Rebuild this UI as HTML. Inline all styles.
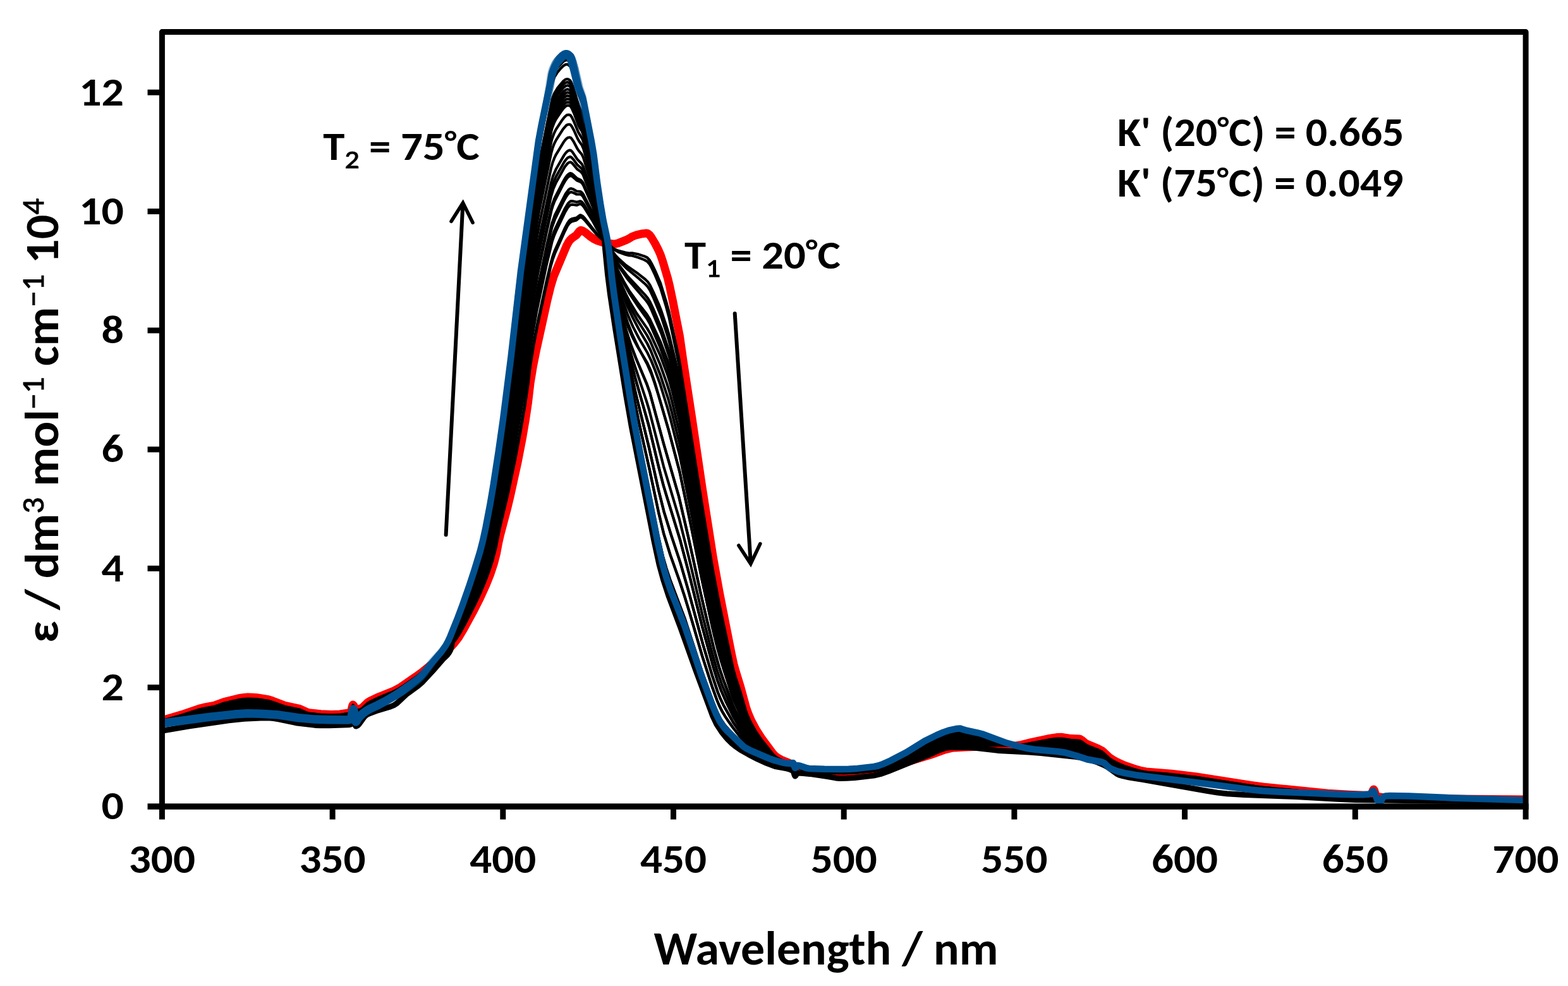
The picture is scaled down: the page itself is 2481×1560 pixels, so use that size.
<!DOCTYPE html>
<html><head><meta charset="utf-8"><title>Absorption spectra</title>
<style>html,body{margin:0;padding:0;background:#fff;overflow:hidden}svg{display:block;filter:blur(0.4px)}</style>
</head><body>
<svg xmlns="http://www.w3.org/2000/svg" width="2481" height="1560" viewBox="0 0 2481 1560">
<rect width="2481" height="1560" fill="#fff"/>
<g><path d="M256.0,1139.9 287.0,1130.8 315.5,1121.1 322.0,1119.5 339.5,1116.2 354.5,1110.6 377.0,1105.0 385.0,1103.7 392.0,1103.1 398.5,1103.2 406.0,1103.7 424.5,1106.6 431.0,1108.7 452.0,1116.7 474.0,1121.3 485.0,1126.5 489.0,1127.7 507.5,1129.8 524.5,1130.5 538.0,1129.9 551.5,1127.8 553.5,1127.1 555.0,1126.0 556.0,1123.4 557.5,1117.0 558.5,1115.0 559.5,1116.1 561.0,1119.6 562.0,1121.0 566.5,1121.9 570.0,1121.6 573.5,1119.4 582.0,1111.3 586.0,1108.8 599.0,1102.7 622.0,1093.6 634.0,1087.1 658.5,1070.2 668.5,1062.9 692.5,1043.7 707.5,1029.9 718.5,1017.9 726.0,1008.0 733.5,995.5 748.5,968.0 759.0,947.4 769.0,925.3 776.0,907.8 781.5,891.2 785.5,875.6 788.5,859.3 791.5,846.1 802.0,806.6 807.0,785.9 819.0,731.6 826.5,692.7 831.5,663.6 835.5,636.6 839.0,606.2 843.5,578.9 848.5,554.0 866.0,474.7 871.5,452.3 876.0,437.5 896.5,388.8 899.5,383.2 902.5,379.2 905.0,376.9 912.0,372.0 917.0,365.5 919.0,364.3 921.5,365.0 925.5,367.3 934.5,374.6 940.0,378.2 944.5,380.5 955.5,384.0 969.5,385.9 974.0,385.8 979.0,384.4 991.0,379.6 995.5,377.4 1000.0,374.5 1007.0,371.8 1016.5,369.7 1023.0,369.0 1025.0,369.6 1027.5,371.4 1030.5,375.2 1036.5,385.3 1042.0,396.0 1045.0,402.8 1048.5,413.0 1056.5,440.1 1059.5,452.4 1064.5,476.2 1075.5,532.1 1081.0,570.9 1095.5,665.8 1111.0,771.3 1128.5,882.9 1138.5,938.4 1157.5,1035.1 1161.0,1051.1 1164.0,1062.0 1171.5,1086.3 1180.5,1119.5 1184.0,1129.4 1188.5,1139.8 1196.5,1154.9 1206.0,1169.5 1222.5,1191.7 1226.5,1196.0 1230.5,1199.0 1236.5,1202.3 1250.5,1208.1 1260.0,1213.8 1269.5,1217.5 1278.0,1219.7 1300.0,1222.4 1319.5,1223.8 1338.0,1223.9 1359.0,1222.8 1382.5,1220.7 1395.5,1218.0 1426.5,1208.1 1472.0,1194.4 1495.5,1186.0 1505.0,1183.6 1511.5,1182.9 1528.0,1182.0 1580.5,1180.1 1608.5,1179.7 1616.5,1178.4 1632.5,1174.4 1662.0,1168.1 1672.0,1166.6 1680.5,1166.3 1694.5,1168.6 1707.5,1169.0 1709.0,1169.4 1711.5,1170.8 1717.0,1175.4 1719.5,1177.0 1737.0,1184.3 1743.5,1187.7 1746.5,1190.1 1755.0,1198.3 1761.5,1202.5 1769.0,1206.5 1779.0,1210.9 1793.5,1216.0 1804.0,1219.0 1813.5,1220.9 1854.0,1224.3 1891.5,1228.7 1979.5,1242.4 1998.5,1245.0 2101.0,1255.2 2135.5,1257.3 2166.0,1258.5 2167.5,1258.0 2170.0,1256.0 2172.5,1250.3 2173.5,1249.0 2174.5,1250.4 2176.5,1257.1 2177.5,1258.5 2181.0,1260.8 2186.0,1261.3 2214.0,1262.4 2304.0,1264.0 2414.0,1265.0" stroke="#ff0000" stroke-width="13" fill="none" stroke-linejoin="round"/><path d="M256.0,1156.2 300.0,1148.9 362.0,1139.9 386.0,1137.3 412.5,1136.0 424.0,1135.8 433.0,1136.6 442.0,1138.1 468.5,1143.7 498.5,1147.4 506.5,1147.8 521.5,1147.7 551.5,1146.8 555.0,1146.0 555.5,1145.1 558.0,1130.7 559.0,1128.0 560.0,1131.3 562.5,1148.1 563.0,1149.0 564.0,1148.9 566.0,1147.8 568.0,1145.8 576.5,1134.2 580.0,1131.0 585.5,1128.4 595.5,1124.8 618.0,1118.0 624.0,1115.3 628.5,1112.2 644.0,1097.8 661.5,1085.0 668.5,1079.0 684.5,1061.7 701.0,1042.8 707.5,1036.5 711.0,1031.8 712.5,1028.9 714.0,1023.7 720.0,991.4 722.0,983.1 731.0,959.5 742.5,926.8 753.5,892.8 760.5,869.3 767.5,839.5 777.0,789.3 788.0,719.6 797.5,652.3 808.0,569.2 820.5,457.9 825.5,417.4 845.0,275.8 850.0,236.4 856.0,201.6 873.0,116.8 874.5,111.3 876.5,106.4 879.5,101.1 883.0,96.3 888.0,90.8 893.0,86.6 898.0,86.4 899.5,87.0 902.0,89.7 904.0,94.0 907.5,105.1 915.5,136.4 918.0,144.1 921.0,151.1 922.5,155.7 937.0,229.6 939.5,245.6 947.0,302.9 954.0,345.6 957.5,393.5 961.5,434.1 965.5,465.9 973.5,518.9 991.0,627.3 999.5,675.9 1035.0,856.1 1043.0,893.0 1049.5,916.8 1058.0,942.8 1077.0,993.3 1101.0,1060.8 1127.5,1132.3 1134.0,1146.0 1142.5,1159.0 1147.5,1165.3 1152.5,1170.9 1157.5,1175.8 1163.0,1180.4 1171.5,1186.3 1184.5,1193.7 1198.0,1200.7 1210.5,1206.5 1226.5,1212.5 1244.5,1215.8 1248.5,1216.9 1252.5,1218.6 1255.0,1220.0 1255.5,1220.8 1257.0,1226.1 1258.0,1228.0 1259.0,1227.2 1261.0,1223.8 1262.0,1223.0 1271.0,1223.4 1281.0,1224.4 1309.5,1228.6 1322.5,1230.9 1328.5,1231.5 1339.5,1231.3 1352.5,1230.5 1382.5,1227.1 1393.0,1224.7 1405.5,1220.3 1469.0,1194.7 1486.0,1187.0 1494.0,1184.1 1498.5,1183.0 1503.0,1182.5 1533.0,1182.6 1545.5,1183.5 1578.5,1187.4 1627.5,1190.0 1647.0,1191.5 1698.5,1196.9 1711.0,1198.7 1719.0,1200.4 1727.5,1202.9 1737.0,1206.3 1747.0,1210.5 1752.5,1213.7 1767.0,1224.2 1771.0,1226.2 1777.0,1227.9 1787.0,1230.0 1807.5,1233.2 1909.5,1251.4 1926.5,1254.1 1941.0,1255.8 1969.0,1257.5 2050.5,1260.5 2116.5,1264.3 2144.0,1265.4 2282.5,1267.3 2414.0,1268.0" stroke="#000" stroke-width="9" fill="none" stroke-linejoin="round"/><path d="M256.0,1144.4 329.5,1134.1 370.5,1129.4 392.0,1128.1 413.0,1128.5 440.5,1130.5 472.0,1135.2 498.0,1137.8 522.0,1138.5 551.0,1138.6 555.0,1137.6 555.5,1136.8 558.0,1124.2 559.0,1121.8 560.0,1124.9 562.0,1138.3 563.0,1141.4 564.0,1140.7 566.5,1136.3 569.5,1132.9 574.5,1128.3 579.5,1124.5 585.5,1121.0 598.0,1115.1 607.5,1110.2 624.0,1100.9 640.5,1090.0 661.0,1074.8 666.5,1069.7 671.0,1064.8 684.5,1047.5 698.5,1031.3 705.5,1021.3 709.0,1014.9 712.5,1007.3 724.0,979.1 732.0,958.0 742.5,928.3 750.0,905.7 759.5,875.1 764.0,857.8 768.5,837.4 775.5,801.2 780.5,772.1 789.0,717.2 796.0,668.4 808.5,571.5 824.0,437.4 852.0,232.7 856.5,208.6 873.5,124.1 877.5,114.4 882.0,107.3 890.5,98.0 893.5,95.9 896.5,95.0 898.5,95.6 901.5,97.9 902.5,99.2 904.0,102.3 908.0,114.8 916.0,145.3 922.0,160.2 924.0,168.8 936.0,228.8 939.5,249.0 945.0,291.6 950.0,323.8 954.5,349.4 960.0,374.5 962.5,388.0 964.5,403.4 968.0,437.0 972.0,466.5 982.5,534.8 997.0,622.3 1004.0,661.2 1012.0,702.3 1027.5,777.5 1041.0,845.5 1049.0,880.7 1054.0,898.2 1060.0,916.5 1084.0,980.1 1110.5,1061.8 1126.0,1105.0 1133.5,1124.0 1140.0,1137.3 1147.0,1147.4 1152.5,1153.7 1172.0,1174.5 1178.0,1180.1 1183.0,1183.4 1189.5,1186.8 1215.5,1198.9 1223.5,1202.1 1235.5,1205.6 1243.5,1207.4 1250.0,1208.0 1255.0,1207.1 1255.5,1207.7 1257.5,1214.3 1258.0,1214.9 1259.0,1214.3 1261.0,1211.7 1262.0,1211.1 1266.0,1211.7 1275.5,1215.2 1280.0,1216.0 1303.0,1216.9 1326.5,1217.3 1340.0,1217.1 1354.5,1216.3 1383.0,1213.2 1389.5,1211.7 1396.5,1209.4 1408.5,1204.1 1434.0,1191.0 1463.5,1173.0 1482.5,1163.7 1493.0,1159.3 1501.5,1156.5 1513.0,1153.9 1519.5,1153.3 1522.0,1154.4 1528.0,1156.1 1554.0,1161.9 1593.0,1175.8 1614.5,1181.5 1626.0,1183.9 1636.5,1185.4 1672.0,1188.3 1685.0,1189.9 1703.0,1194.8 1720.5,1200.7 1742.0,1204.9 1747.0,1206.8 1754.5,1213.7 1757.5,1215.7 1768.5,1220.0 1781.0,1223.2 1799.0,1226.2 1903.0,1239.1 1980.0,1249.3 1998.0,1251.2 2025.0,1252.7 2119.5,1256.6 2145.5,1257.3 2157.5,1257.2 2166.5,1256.5 2170.0,1254.1 2172.0,1251.6 2173.0,1251.0 2173.5,1251.2 2174.5,1253.1 2179.5,1266.2 2182.0,1268.2 2184.0,1268.8 2185.0,1267.9 2187.5,1262.6 2190.0,1260.4 2192.0,1259.6 2199.0,1259.1 2229.0,1259.6 2297.0,1262.4 2414.0,1266.0" stroke="#000" stroke-width="4.2" fill="none" stroke-linejoin="round"/><path d="M256.0,1144.3 328.0,1133.9 370.0,1128.9 392.0,1127.5 413.5,1128.0 440.0,1130.0 472.0,1134.9 497.5,1137.6 522.0,1138.3 551.0,1138.4 555.0,1137.4 555.5,1136.5 558.0,1124.0 559.0,1121.7 560.0,1124.7 562.0,1137.9 563.0,1140.9 564.0,1140.3 566.5,1135.9 569.5,1132.6 574.5,1128.0 579.5,1124.2 585.5,1120.7 598.5,1114.6 609.0,1109.2 624.5,1100.4 640.5,1089.8 661.0,1074.6 666.5,1069.6 671.0,1064.7 684.5,1047.5 698.5,1031.4 705.5,1021.6 709.0,1015.2 712.5,1007.7 724.0,979.8 732.0,958.9 742.0,930.9 759.0,878.5 763.5,861.7 768.5,839.4 775.5,803.6 781.0,771.9 789.5,717.0 796.5,668.4 808.5,576.2 824.0,443.5 852.0,239.7 856.5,215.6 873.5,131.4 877.5,121.6 882.0,114.5 887.5,107.9 891.0,104.4 894.0,102.4 897.0,101.7 899.5,102.8 902.0,104.8 904.0,108.6 908.0,120.7 916.0,150.4 922.0,164.9 924.0,173.2 936.5,234.7 939.5,252.0 945.0,293.6 950.0,325.2 954.5,350.2 960.5,377.1 963.0,391.1 968.0,435.8 972.0,464.9 983.0,535.9 999.0,632.9 1012.5,704.8 1027.5,777.5 1041.0,845.5 1049.0,880.7 1054.0,898.2 1060.0,916.5 1084.0,980.1 1110.5,1061.8 1126.0,1105.0 1133.5,1124.0 1140.0,1137.3 1147.0,1147.4 1152.5,1153.7 1172.0,1174.5 1178.0,1180.1 1183.0,1183.4 1189.5,1186.8 1215.5,1198.9 1223.5,1202.1 1235.5,1205.6 1243.5,1207.4 1250.0,1208.0 1255.0,1207.1 1255.5,1207.7 1257.5,1214.3 1258.0,1214.9 1259.0,1214.3 1261.0,1211.7 1262.0,1211.1 1266.0,1211.7 1275.5,1215.2 1280.0,1216.0 1303.0,1216.9 1326.5,1217.3 1340.0,1217.1 1354.5,1216.3 1383.0,1213.2 1389.5,1211.7 1396.5,1209.4 1408.5,1204.1 1434.0,1191.0 1463.5,1173.0 1482.5,1163.7 1493.0,1159.3 1501.5,1156.5 1513.0,1153.9 1519.5,1153.3 1522.0,1154.4 1528.0,1156.1 1554.0,1161.9 1593.0,1175.8 1614.5,1181.5 1626.0,1183.9 1636.5,1185.4 1672.0,1188.3 1685.0,1189.9 1703.0,1194.8 1720.5,1200.7 1742.0,1204.9 1747.0,1206.8 1754.5,1213.7 1757.5,1215.7 1768.5,1220.0 1781.0,1223.2 1799.0,1226.2 1903.0,1239.1 1980.0,1249.3 1998.0,1251.2 2025.0,1252.7 2119.5,1256.6 2145.5,1257.3 2157.5,1257.2 2166.5,1256.5 2170.0,1254.1 2172.0,1251.6 2173.0,1251.0 2173.5,1251.2 2174.5,1253.1 2179.5,1266.2 2182.0,1268.2 2184.0,1268.8 2185.0,1267.9 2187.5,1262.6 2190.0,1260.4 2192.0,1259.6 2199.0,1259.1 2229.0,1259.6 2297.0,1262.4 2414.0,1266.0" stroke="#000" stroke-width="4.2" fill="none" stroke-linejoin="round"/><path d="M256.0,1143.9 317.5,1134.1 354.0,1129.1 376.0,1126.5 392.0,1125.5 409.5,1125.9 430.0,1127.4 444.0,1129.1 485.0,1135.6 496.5,1136.8 522.5,1137.7 550.5,1137.6 554.5,1136.7 555.5,1135.6 558.0,1123.3 559.0,1121.1 560.0,1124.1 562.0,1136.6 563.0,1139.3 564.0,1138.7 566.5,1134.8 569.5,1131.8 575.5,1126.4 580.5,1122.7 586.0,1119.5 610.5,1107.6 624.5,1099.8 640.0,1089.6 660.5,1074.5 666.5,1069.2 671.0,1064.4 684.5,1047.8 698.5,1032.0 705.5,1022.4 712.5,1009.1 724.5,981.1 732.5,960.8 743.0,932.1 754.5,898.2 760.0,880.7 764.5,863.8 769.5,841.8 776.5,807.0 782.0,775.8 798.0,670.9 809.0,588.8 824.5,461.1 850.0,276.5 852.5,261.1 873.5,156.9 877.5,147.0 882.5,138.9 891.5,128.1 894.5,125.8 897.5,125.0 899.5,125.5 902.0,127.2 904.0,130.5 908.0,141.3 915.5,166.5 922.0,181.2 924.0,188.9 936.0,243.8 939.5,262.2 945.0,300.7 950.0,329.8 954.5,352.9 960.5,377.7 963.0,390.6 968.0,431.8 972.0,458.4 982.5,520.1 997.0,599.8 1011.0,668.5 1027.5,741.9 1042.0,810.4 1050.0,843.6 1060.5,877.6 1075.5,920.0 1083.0,942.9 1090.5,967.4 1111.5,1039.2 1126.5,1085.7 1134.5,1108.0 1138.5,1117.3 1142.0,1124.4 1147.0,1132.8 1153.0,1141.8 1160.0,1151.5 1174.5,1170.0 1178.5,1174.5 1183.5,1178.8 1188.5,1182.3 1195.5,1186.4 1216.0,1197.7 1224.5,1201.7 1234.5,1205.0 1243.0,1207.1 1250.0,1208.0 1255.0,1207.4 1255.5,1208.0 1257.5,1214.2 1258.0,1214.7 1259.0,1214.3 1261.0,1211.9 1262.0,1211.4 1266.0,1212.1 1275.5,1215.5 1280.0,1216.4 1300.5,1217.4 1321.0,1217.8 1336.5,1217.8 1351.0,1217.1 1382.5,1213.9 1389.0,1212.5 1396.0,1210.3 1408.5,1205.0 1434.0,1192.3 1463.5,1175.1 1484.5,1165.2 1494.0,1161.3 1502.0,1158.8 1513.0,1156.4 1519.5,1155.9 1528.0,1158.4 1554.0,1163.6 1593.0,1176.1 1614.5,1181.3 1634.0,1184.1 1674.0,1186.5 1683.5,1187.7 1690.0,1189.0 1707.0,1193.7 1721.0,1198.9 1738.0,1202.2 1744.0,1203.9 1747.5,1205.7 1755.0,1212.7 1758.5,1214.8 1770.5,1219.4 1785.0,1223.0 1804.5,1226.2 1901.0,1238.1 1983.0,1249.1 1999.0,1250.7 2028.0,1252.5 2118.0,1256.6 2147.0,1257.4 2158.0,1257.3 2166.5,1256.6 2170.0,1254.2 2173.0,1250.8 2173.5,1251.0 2174.5,1252.9 2179.5,1265.6 2181.5,1267.3 2184.0,1268.1 2185.0,1267.3 2187.5,1262.5 2190.0,1260.5 2192.0,1259.7 2199.0,1259.3 2229.0,1259.9 2297.5,1262.6 2414.0,1265.9" stroke="#000" stroke-width="4.2" fill="none" stroke-linejoin="round"/><path d="M256.0,1143.8 317.5,1133.9 354.0,1128.8 376.0,1126.1 392.0,1125.1 409.0,1125.4 429.5,1127.0 444.0,1128.8 485.0,1135.5 496.5,1136.6 523.0,1137.6 550.5,1137.4 554.5,1136.5 555.5,1135.4 558.0,1123.1 559.0,1121.0 560.0,1124.0 562.0,1136.3 563.0,1139.0 564.0,1138.4 566.5,1134.5 569.5,1131.6 575.5,1126.3 581.0,1122.2 586.5,1119.0 610.5,1107.4 625.0,1099.3 640.0,1089.5 660.5,1074.4 666.5,1069.1 671.0,1064.3 684.5,1047.8 698.5,1032.1 706.0,1021.8 713.0,1008.3 725.0,980.5 733.0,960.2 743.5,931.6 754.5,899.4 760.0,882.0 764.5,865.2 769.5,843.4 776.5,808.9 782.0,778.0 798.5,670.4 809.0,592.4 824.0,469.6 850.0,281.7 852.5,266.5 873.5,162.5 877.5,152.5 882.0,145.1 888.0,137.3 891.5,133.4 894.5,131.0 897.5,130.1 899.5,130.6 902.0,132.1 904.0,135.3 908.0,145.9 915.5,170.4 922.0,184.7 924.0,192.4 936.0,246.4 939.5,264.4 945.0,302.2 950.0,330.9 954.5,353.5 960.5,377.8 963.0,390.5 968.0,430.9 972.0,457.1 982.5,518.3 998.5,606.4 1012.5,675.1 1027.5,741.9 1042.0,810.4 1050.0,843.6 1060.5,877.6 1075.5,920.0 1083.0,942.9 1090.5,967.4 1111.5,1039.2 1126.5,1085.7 1134.5,1108.0 1138.5,1117.3 1142.5,1125.3 1147.5,1133.6 1154.0,1143.2 1160.5,1152.2 1175.0,1170.6 1179.0,1175.0 1184.0,1179.2 1196.0,1186.7 1216.0,1197.7 1224.5,1201.7 1234.5,1205.0 1243.0,1207.1 1250.0,1208.0 1255.0,1207.4 1255.5,1208.0 1257.5,1214.2 1258.0,1214.7 1259.0,1214.3 1261.0,1211.9 1262.0,1211.4 1266.0,1212.1 1275.5,1215.5 1280.0,1216.4 1300.5,1217.4 1321.5,1217.8 1337.0,1217.8 1351.5,1217.1 1382.5,1213.9 1389.0,1212.5 1396.0,1210.3 1408.5,1205.0 1434.0,1192.3 1463.5,1175.1 1484.5,1165.2 1494.0,1161.3 1502.0,1158.8 1513.0,1156.4 1519.5,1155.9 1528.0,1158.4 1554.0,1163.6 1593.0,1176.1 1614.5,1181.3 1634.0,1184.1 1674.0,1186.5 1683.5,1187.7 1690.0,1189.0 1707.0,1193.7 1721.0,1198.9 1738.0,1202.2 1744.0,1203.9 1747.5,1205.7 1755.0,1212.7 1758.5,1214.8 1770.5,1219.4 1785.0,1223.0 1804.5,1226.2 1901.0,1238.1 1983.0,1249.1 1999.0,1250.7 2028.0,1252.5 2118.0,1256.6 2147.0,1257.4 2158.0,1257.3 2166.5,1256.6 2170.0,1254.2 2173.0,1250.8 2173.5,1251.0 2174.5,1252.9 2179.5,1265.6 2181.5,1267.3 2184.0,1268.1 2185.0,1267.3 2187.5,1262.5 2190.0,1260.5 2192.0,1259.7 2199.0,1259.3 2229.0,1259.9 2297.5,1262.6 2414.0,1265.9" stroke="#000" stroke-width="4.2" fill="none" stroke-linejoin="round"/><path d="M256.0,1143.8 317.0,1133.7 354.0,1128.4 376.0,1125.7 392.0,1124.6 408.5,1125.0 428.5,1126.5 443.5,1128.4 485.5,1135.4 496.0,1136.4 523.0,1137.4 550.5,1137.2 554.5,1136.3 555.5,1135.2 558.0,1123.0 559.0,1120.9 560.0,1123.8 562.0,1136.0 563.0,1138.6 564.0,1138.1 566.5,1134.3 569.0,1131.8 575.5,1126.1 581.0,1122.0 586.5,1118.8 611.0,1106.9 625.0,1099.2 640.0,1089.4 660.5,1074.3 666.5,1069.0 671.5,1063.7 684.5,1047.9 698.5,1032.2 706.0,1022.0 713.0,1008.7 724.5,982.3 732.5,962.2 743.0,933.9 754.5,900.5 760.0,883.2 764.5,866.6 769.5,845.0 776.5,810.8 782.5,777.2 799.0,669.9 809.0,596.1 824.0,474.3 850.0,287.0 852.5,271.9 873.5,168.2 877.5,158.1 882.5,149.9 888.5,142.1 892.0,138.2 895.5,135.7 898.0,135.2 900.0,135.8 902.0,137.0 904.0,140.1 908.0,150.5 915.5,174.4 922.0,188.3 924.0,195.9 935.0,244.5 939.5,266.7 945.0,303.8 950.0,331.9 954.5,354.1 960.0,375.9 962.5,387.6 964.5,401.0 968.0,429.9 971.5,452.3 980.5,502.2 991.0,555.3 1004.0,615.0 1026.5,706.3 1042.0,775.3 1050.5,809.3 1062.0,846.6 1076.5,890.4 1089.0,933.6 1112.0,1018.6 1127.0,1069.2 1135.5,1094.5 1140.0,1105.7 1144.5,1115.2 1160.0,1142.7 1178.0,1168.6 1183.0,1174.1 1189.5,1179.4 1211.5,1193.7 1219.5,1198.5 1225.5,1201.5 1234.0,1204.5 1242.5,1206.8 1250.0,1208.0 1255.0,1207.7 1258.0,1214.6 1259.0,1214.2 1261.0,1212.1 1262.0,1211.7 1266.5,1212.6 1276.0,1216.0 1280.0,1216.7 1300.0,1217.8 1319.5,1218.3 1335.5,1218.4 1350.0,1217.7 1382.0,1214.6 1388.5,1213.2 1395.5,1211.1 1408.0,1206.0 1434.0,1193.4 1463.5,1176.9 1486.0,1166.6 1495.0,1163.1 1502.5,1160.8 1513.0,1158.7 1519.5,1158.1 1527.5,1160.3 1554.0,1165.1 1593.5,1176.6 1613.0,1180.8 1624.5,1182.4 1637.0,1183.5 1675.5,1185.0 1683.0,1185.8 1689.0,1187.0 1708.0,1191.9 1721.5,1197.2 1737.5,1200.7 1743.5,1202.4 1747.5,1204.5 1756.0,1212.3 1760.5,1214.6 1773.0,1219.2 1789.0,1223.0 1808.5,1226.1 1899.5,1237.2 1985.0,1248.8 2001.0,1250.4 2030.5,1252.2 2116.0,1256.5 2148.0,1257.4 2158.5,1257.3 2166.5,1256.8 2170.0,1254.4 2173.0,1250.7 2173.5,1250.9 2174.5,1252.6 2179.5,1265.2 2181.5,1266.8 2184.0,1267.5 2185.0,1266.8 2187.5,1262.4 2190.0,1260.6 2192.0,1259.9 2199.0,1259.6 2229.0,1260.1 2298.5,1262.7 2414.0,1265.8" stroke="#000" stroke-width="4.2" fill="none" stroke-linejoin="round"/><path d="M256.0,1143.7 316.5,1133.4 354.0,1128.0 376.0,1125.2 392.0,1124.1 408.5,1124.5 428.0,1126.0 443.0,1128.0 485.5,1135.1 496.0,1136.2 523.5,1137.3 550.5,1137.0 554.5,1136.0 555.5,1134.9 558.0,1122.8 559.0,1120.8 560.0,1123.7 562.0,1135.6 562.5,1137.5 563.0,1138.2 563.5,1138.1 567.0,1133.4 575.0,1126.3 581.0,1121.7 586.5,1118.6 611.5,1106.5 625.0,1099.0 640.0,1089.2 660.5,1074.2 666.5,1068.9 671.5,1063.6 684.5,1047.9 698.5,1032.4 706.0,1022.2 713.0,1009.0 725.0,981.7 733.0,961.8 743.5,933.6 754.5,901.8 760.0,884.7 765.0,866.3 770.0,844.6 776.5,813.1 782.5,779.9 799.5,670.0 809.0,600.4 824.0,479.8 850.0,293.2 852.5,278.2 873.5,174.8 877.5,164.7 882.5,156.4 888.5,148.4 892.0,144.5 895.5,141.8 898.0,141.2 900.0,141.7 902.0,142.8 904.0,145.8 908.0,155.8 915.5,179.0 922.0,192.6 924.0,199.9 935.5,249.8 939.5,269.4 945.0,305.6 950.0,333.1 954.5,354.8 960.0,376.1 962.5,387.5 964.5,400.6 968.0,428.9 971.5,450.9 981.0,502.8 993.0,563.2 1006.0,622.7 1027.0,708.4 1042.0,775.3 1050.5,809.3 1062.0,846.6 1076.5,890.4 1089.0,933.6 1112.0,1018.6 1127.0,1069.2 1135.5,1094.5 1140.0,1105.7 1144.5,1115.2 1160.0,1142.7 1178.0,1168.6 1183.0,1174.1 1189.5,1179.4 1211.5,1193.7 1219.5,1198.5 1225.5,1201.5 1234.0,1204.5 1242.5,1206.8 1250.0,1208.0 1255.0,1207.7 1258.0,1214.6 1259.0,1214.2 1261.0,1212.1 1262.0,1211.7 1266.5,1212.6 1276.0,1216.0 1280.0,1216.7 1300.0,1217.8 1319.5,1218.3 1335.5,1218.4 1350.0,1217.7 1382.0,1214.6 1388.5,1213.2 1395.5,1211.1 1408.0,1206.0 1434.0,1193.4 1463.5,1176.9 1486.0,1166.6 1495.0,1163.1 1502.5,1160.8 1513.0,1158.7 1519.5,1158.1 1527.5,1160.3 1554.0,1165.1 1593.5,1176.6 1613.0,1180.8 1624.5,1182.4 1637.0,1183.5 1675.5,1185.0 1683.0,1185.8 1689.0,1187.0 1708.0,1191.9 1721.5,1197.2 1737.5,1200.7 1743.5,1202.4 1747.5,1204.5 1756.0,1212.3 1760.5,1214.6 1773.0,1219.2 1789.0,1223.0 1808.5,1226.1 1899.5,1237.2 1985.0,1248.8 2001.0,1250.4 2030.5,1252.2 2116.0,1256.5 2148.0,1257.4 2158.5,1257.3 2166.5,1256.8 2170.0,1254.4 2173.0,1250.7 2173.5,1250.9 2174.5,1252.6 2179.5,1265.2 2181.5,1266.8 2184.0,1267.5 2185.0,1266.8 2187.5,1262.4 2190.0,1260.6 2192.0,1259.9 2199.0,1259.6 2229.0,1260.1 2298.5,1262.7 2414.0,1265.8" stroke="#000" stroke-width="4.2" fill="none" stroke-linejoin="round"/><path d="M256.0,1143.6 316.5,1133.2 340.0,1130.0 354.0,1127.6 376.5,1124.7 392.5,1123.7 409.0,1124.1 428.0,1125.6 443.0,1127.7 485.5,1135.0 493.0,1135.8 512.5,1136.9 540.5,1137.1 551.0,1136.8 555.0,1135.6 556.0,1132.9 558.0,1122.7 559.0,1120.7 560.0,1123.5 562.0,1135.3 562.5,1137.1 563.0,1137.9 563.5,1137.7 567.0,1133.2 575.5,1125.7 581.5,1121.2 587.0,1118.1 611.5,1106.3 625.0,1098.9 639.5,1089.4 660.0,1074.5 666.0,1069.3 671.0,1064.1 684.5,1048.0 698.5,1032.5 706.0,1022.4 713.0,1009.3 725.0,982.3 733.0,962.5 743.5,934.5 754.5,903.0 760.0,886.0 765.0,867.7 770.0,846.3 776.5,815.1 782.5,782.1 799.5,673.0 809.5,600.3 824.0,484.5 839.0,376.1 850.0,298.5 852.5,283.5 873.5,180.4 877.5,170.3 882.5,162.0 888.5,153.8 892.0,149.8 895.5,147.0 898.0,146.3 900.0,146.7 902.0,147.7 904.5,151.7 908.0,160.4 915.0,181.6 917.0,186.4 921.0,193.7 923.5,201.3 938.5,266.3 945.0,307.2 949.5,331.6 954.5,355.4 960.5,378.3 963.0,390.2 968.5,431.3 974.0,462.6 982.5,505.0 993.5,553.6 1004.5,596.1 1026.0,671.2 1042.0,737.9 1050.0,769.0 1076.5,855.7 1090.5,908.8 1110.5,989.1 1128.5,1055.1 1135.0,1076.1 1141.0,1092.5 1148.5,1109.5 1160.5,1134.1 1176.0,1159.8 1181.0,1167.0 1188.5,1174.8 1198.5,1182.8 1217.5,1196.2 1226.5,1201.3 1234.0,1204.2 1242.0,1206.5 1250.0,1208.0 1255.0,1208.0 1258.0,1214.4 1259.0,1214.1 1261.0,1212.3 1262.0,1212.0 1266.0,1212.8 1277.0,1216.5 1285.0,1217.4 1304.5,1218.4 1323.5,1218.9 1338.0,1218.8 1352.5,1218.1 1382.0,1215.2 1388.5,1213.9 1395.5,1211.8 1407.5,1207.0 1434.0,1194.6 1463.5,1178.9 1487.5,1168.3 1496.0,1165.0 1503.0,1163.0 1513.0,1161.1 1519.5,1160.5 1527.5,1162.4 1554.5,1166.8 1593.5,1176.9 1611.5,1180.4 1622.5,1181.7 1637.0,1182.5 1674.0,1183.0 1681.5,1183.7 1688.5,1185.0 1707.5,1189.5 1721.0,1195.2 1742.5,1200.6 1747.0,1202.8 1756.0,1210.9 1762.5,1214.2 1769.0,1216.8 1776.5,1219.2 1794.5,1223.3 1812.5,1226.1 1901.0,1236.7 1987.5,1248.5 2005.5,1250.2 2035.5,1252.1 2114.5,1256.4 2149.5,1257.5 2166.5,1256.9 2170.0,1254.5 2173.0,1250.6 2174.0,1251.3 2179.5,1264.7 2181.5,1266.2 2184.0,1266.9 2185.0,1266.2 2187.5,1262.3 2190.0,1260.7 2192.0,1260.1 2198.5,1259.8 2234.0,1260.5 2320.0,1263.4 2414.0,1265.7" stroke="#000" stroke-width="4.2" fill="none" stroke-linejoin="round"/><path d="M256.0,1143.5 316.5,1132.9 340.0,1129.7 354.0,1127.3 376.5,1124.3 392.5,1123.3 409.0,1123.6 428.0,1125.2 442.5,1127.3 485.5,1134.8 492.0,1135.6 510.5,1136.7 538.5,1137.0 551.0,1136.6 555.0,1135.4 556.0,1132.7 558.0,1122.5 559.0,1120.5 560.0,1123.4 562.0,1135.0 562.5,1136.8 563.0,1137.5 563.5,1137.4 567.0,1133.0 576.0,1125.1 581.5,1121.0 587.0,1117.9 612.0,1105.8 625.0,1098.7 639.5,1089.3 660.0,1074.4 666.0,1069.2 671.0,1064.0 684.5,1048.0 698.5,1032.7 706.0,1022.6 713.0,1009.7 725.0,982.9 733.5,961.9 744.0,934.0 755.0,902.7 760.5,885.6 765.5,867.1 770.5,845.6 777.0,814.5 783.0,781.4 800.0,672.7 809.5,604.0 824.0,489.2 839.0,380.9 850.0,303.8 852.5,288.9 873.5,186.1 876.0,179.2 878.5,173.9 881.5,168.9 886.5,162.0 890.5,156.7 893.5,153.6 896.0,151.9 898.5,151.4 902.0,152.7 904.5,156.5 908.0,164.9 915.0,185.6 917.0,190.2 921.0,197.3 923.5,204.8 938.5,268.6 945.0,308.8 949.5,332.7 954.5,356.0 960.5,378.4 963.0,390.1 968.5,430.4 976.0,471.4 984.5,512.4 995.0,558.4 1005.5,599.1 1027.0,675.1 1041.0,733.8 1049.0,765.4 1054.0,782.7 1076.0,853.9 1090.5,908.8 1110.5,989.1 1128.5,1055.1 1135.0,1076.1 1141.0,1092.5 1148.5,1109.5 1160.5,1134.1 1176.0,1159.8 1181.0,1167.0 1188.5,1174.8 1199.0,1183.2 1218.0,1196.5 1227.0,1201.6 1234.5,1204.4 1242.5,1206.6 1250.0,1208.0 1255.0,1208.0 1258.0,1214.4 1259.0,1214.1 1261.0,1212.3 1262.0,1212.0 1266.0,1212.8 1277.0,1216.5 1285.5,1217.4 1305.0,1218.5 1324.0,1218.9 1338.5,1218.8 1353.0,1218.1 1382.5,1215.1 1389.0,1213.8 1396.0,1211.6 1408.0,1206.8 1434.0,1194.6 1463.5,1178.9 1487.5,1168.3 1496.0,1165.0 1503.0,1163.0 1513.0,1161.1 1519.5,1160.5 1527.5,1162.4 1554.5,1166.8 1593.5,1176.9 1611.5,1180.4 1622.5,1181.7 1637.0,1182.5 1674.0,1183.0 1681.5,1183.7 1688.5,1185.0 1707.5,1189.5 1721.0,1195.2 1742.5,1200.6 1747.0,1202.8 1756.0,1210.9 1762.5,1214.2 1769.0,1216.8 1776.5,1219.2 1794.5,1223.3 1812.5,1226.1 1901.0,1236.7 1987.5,1248.5 2005.5,1250.2 2035.5,1252.1 2114.5,1256.4 2149.5,1257.5 2166.5,1256.9 2170.0,1254.5 2173.0,1250.6 2174.0,1251.3 2179.5,1264.7 2181.5,1266.2 2184.0,1266.9 2185.0,1266.2 2187.5,1262.3 2190.0,1260.7 2192.0,1260.1 2198.5,1259.8 2234.0,1260.5 2320.0,1263.4 2414.0,1265.7" stroke="#000" stroke-width="4.2" fill="none" stroke-linejoin="round"/><path d="M256.0,1143.4 316.0,1132.7 339.5,1129.5 354.0,1126.9 376.5,1123.9 392.5,1122.8 408.5,1123.2 427.5,1124.8 441.5,1126.9 491.0,1135.3 508.0,1136.5 536.5,1136.8 550.5,1136.4 555.0,1135.2 556.0,1132.5 558.0,1122.4 559.0,1120.4 560.0,1123.3 562.0,1134.7 562.5,1136.5 563.0,1137.2 563.5,1137.0 567.0,1132.7 576.5,1124.5 581.5,1120.8 587.0,1117.7 613.0,1105.2 625.5,1098.3 639.5,1089.2 660.0,1074.2 666.0,1069.1 671.0,1064.0 684.5,1048.1 698.5,1032.8 706.0,1022.8 713.0,1010.0 725.0,983.5 733.5,962.7 744.0,935.0 755.0,903.8 760.5,886.8 765.5,868.6 770.5,847.3 777.0,816.4 783.0,783.7 800.0,675.7 809.5,607.7 824.0,493.9 839.0,385.8 850.0,309.1 852.5,294.3 873.5,191.7 877.5,181.5 882.5,173.0 889.0,164.0 892.5,159.8 896.0,157.1 898.5,156.5 902.0,157.6 904.5,161.2 908.0,169.5 915.0,189.5 917.0,194.0 921.0,201.0 923.5,208.3 938.5,271.0 945.5,313.1 952.0,345.6 955.0,358.7 960.0,376.6 962.5,387.4 964.0,396.1 968.0,426.1 971.5,446.4 979.5,485.3 987.5,519.4 994.5,546.3 1001.5,570.2 1023.0,634.9 1027.0,648.1 1050.0,737.8 1075.0,821.7 1090.5,884.2 1112.0,975.5 1126.0,1030.4 1134.0,1058.9 1142.5,1083.9 1158.0,1121.2 1162.5,1130.4 1178.5,1159.1 1183.5,1166.2 1191.0,1174.1 1201.0,1182.7 1216.5,1194.5 1225.0,1200.1 1233.5,1203.7 1245.5,1207.1 1250.5,1208.0 1255.0,1208.3 1258.0,1214.3 1262.0,1212.2 1266.0,1213.1 1275.5,1216.4 1279.0,1217.2 1298.0,1218.5 1316.5,1219.2 1342.5,1219.1 1370.5,1217.0 1385.5,1215.1 1391.5,1213.6 1398.5,1211.3 1408.5,1207.2 1434.5,1195.4 1463.5,1180.5 1488.5,1169.7 1496.5,1166.7 1503.5,1164.7 1513.0,1163.0 1519.5,1162.5 1527.5,1164.2 1554.5,1168.1 1593.5,1177.2 1611.0,1180.3 1622.0,1181.2 1637.0,1181.7 1671.5,1181.5 1679.0,1181.9 1685.0,1182.7 1708.0,1187.9 1721.0,1193.6 1742.0,1199.2 1746.5,1201.3 1755.5,1209.5 1761.5,1212.8 1774.5,1217.7 1790.5,1221.8 1811.0,1225.4 1897.0,1235.5 1989.5,1248.3 2018.5,1250.8 2093.5,1255.2 2126.5,1256.9 2150.5,1257.5 2166.5,1257.1 2170.0,1254.7 2173.0,1250.5 2174.0,1251.1 2177.0,1259.1 2179.5,1264.3 2181.5,1265.7 2184.0,1266.4 2185.0,1265.8 2187.5,1262.2 2190.0,1260.7 2192.0,1260.2 2198.5,1260.0 2235.0,1260.7 2321.5,1263.5 2414.0,1265.7" stroke="#000" stroke-width="4.2" fill="none" stroke-linejoin="round"/><path d="M256.0,1143.4 316.0,1132.5 339.5,1129.2 354.5,1126.5 376.5,1123.5 392.5,1122.4 408.5,1122.8 427.5,1124.4 490.0,1135.1 507.5,1136.3 535.0,1136.7 550.5,1136.2 555.0,1135.0 556.0,1132.3 558.0,1122.2 559.0,1120.3 560.0,1123.1 562.0,1134.4 562.5,1136.1 563.0,1136.8 563.5,1136.7 567.0,1132.5 577.0,1124.0 582.0,1120.3 587.0,1117.5 612.5,1105.2 625.5,1098.2 639.5,1089.1 660.0,1074.1 666.5,1068.5 671.5,1063.3 684.5,1048.1 698.5,1032.9 706.0,1023.0 713.0,1010.3 725.0,984.1 733.5,963.4 744.0,935.9 755.0,904.9 760.5,888.1 765.5,870.0 770.5,848.9 777.0,818.4 783.0,786.0 800.5,675.5 809.5,611.4 824.0,498.6 839.5,387.2 850.0,314.4 852.5,299.6 872.5,201.1 874.0,195.8 876.5,189.3 879.5,183.3 888.5,170.0 891.5,166.2 894.5,163.3 897.0,161.8 899.0,161.6 902.0,162.5 904.5,166.0 908.0,174.1 915.0,193.5 917.0,197.8 921.0,204.6 923.5,211.8 938.5,273.3 945.5,314.6 952.0,346.4 955.0,359.2 960.0,376.8 962.5,387.3 964.0,395.9 968.0,425.1 970.5,439.5 976.5,468.5 982.5,493.8 990.0,521.1 997.5,544.3 1005.5,565.1 1023.0,606.3 1028.0,620.4 1050.0,701.7 1074.0,785.0 1089.5,851.5 1109.0,940.1 1119.5,985.0 1130.0,1027.9 1138.0,1056.1 1145.0,1076.8 1159.5,1115.5 1163.5,1124.1 1180.5,1157.4 1186.5,1165.8 1194.5,1174.4 1206.0,1184.7 1221.0,1196.8 1227.5,1200.8 1235.5,1204.1 1246.0,1207.1 1255.0,1208.6 1258.0,1214.1 1262.0,1212.5 1275.0,1216.6 1279.0,1217.5 1305.5,1219.3 1330.5,1219.9 1350.0,1219.3 1373.0,1217.3 1382.0,1216.2 1388.0,1215.1 1395.0,1213.2 1402.5,1210.5 1437.0,1195.4 1465.0,1181.7 1493.5,1169.9 1505.5,1166.5 1513.5,1165.2 1519.5,1164.7 1527.5,1166.2 1554.5,1169.5 1594.0,1177.6 1610.5,1180.1 1621.0,1180.7 1637.5,1180.8 1670.5,1179.8 1679.0,1180.1 1685.0,1180.9 1708.0,1185.7 1720.5,1191.7 1741.5,1197.6 1747.0,1200.4 1756.0,1208.7 1762.5,1212.1 1776.0,1217.2 1793.0,1221.6 1812.0,1225.0 1896.0,1234.7 1991.5,1248.1 2018.5,1250.4 2094.5,1255.2 2127.0,1256.9 2151.5,1257.6 2166.5,1257.2 2170.0,1254.8 2172.5,1250.8 2173.5,1250.4 2174.5,1252.0 2176.5,1257.8 2179.0,1263.1 2181.0,1264.9 2184.0,1265.8 2185.0,1265.3 2187.5,1262.1 2190.0,1260.8 2192.0,1260.4 2198.0,1260.2 2236.0,1261.0 2323.5,1263.7 2414.0,1265.6" stroke="#000" stroke-width="4.2" fill="none" stroke-linejoin="round"/><path d="M256.0,1143.3 316.0,1132.2 339.5,1128.9 354.5,1126.1 376.5,1123.1 392.5,1121.9 408.0,1122.3 427.0,1124.0 489.5,1134.8 507.0,1136.1 533.5,1136.6 550.5,1136.1 555.0,1134.8 556.0,1132.1 558.0,1122.0 559.0,1120.2 560.0,1123.0 562.0,1134.1 562.5,1135.8 563.0,1136.5 563.5,1136.3 567.0,1132.2 577.0,1123.8 582.0,1120.1 587.5,1117.1 613.0,1104.8 625.5,1098.0 639.5,1088.9 660.0,1074.0 666.5,1068.4 671.5,1063.3 684.5,1048.2 698.5,1033.0 706.0,1023.2 713.0,1010.6 725.0,984.6 733.5,964.1 744.5,935.4 755.0,906.1 760.5,889.4 765.5,871.4 771.0,848.4 777.5,817.9 783.5,785.4 800.5,678.6 809.5,615.1 824.0,503.3 839.5,392.1 850.0,319.7 852.5,305.0 872.5,206.8 874.0,201.4 876.5,194.9 879.5,188.8 888.5,175.4 891.5,171.5 894.5,168.5 897.0,166.9 899.0,166.6 902.0,167.5 904.5,170.8 908.0,178.6 915.0,197.5 917.0,201.6 921.0,208.2 923.5,215.3 938.5,275.7 945.5,316.2 952.0,347.2 955.0,359.8 960.0,377.0 962.5,387.3 964.0,395.7 968.0,424.3 970.5,438.4 976.5,466.9 982.5,492.0 990.5,521.3 998.0,544.7 1006.5,567.3 1023.5,608.1 1028.5,622.4 1050.0,701.7 1074.0,785.0 1089.5,851.5 1109.0,940.1 1119.5,985.0 1130.0,1027.9 1138.0,1056.1 1145.0,1076.8 1159.5,1115.5 1163.5,1124.1 1180.5,1157.4 1186.5,1165.8 1194.5,1174.4 1206.0,1184.7 1221.0,1196.8 1227.5,1200.8 1235.5,1204.1 1246.0,1207.1 1255.0,1208.6 1258.0,1214.1 1262.0,1212.5 1275.0,1216.6 1279.0,1217.5 1305.5,1219.3 1330.5,1219.9 1350.0,1219.3 1373.0,1217.3 1382.0,1216.2 1388.0,1215.1 1395.0,1213.2 1402.5,1210.5 1437.0,1195.4 1465.0,1181.7 1493.5,1169.9 1505.5,1166.5 1513.5,1165.2 1519.5,1164.7 1527.5,1166.2 1554.5,1169.5 1594.0,1177.6 1610.5,1180.1 1621.0,1180.7 1637.5,1180.8 1670.5,1179.8 1679.0,1180.1 1685.0,1180.9 1708.0,1185.7 1720.5,1191.7 1741.5,1197.6 1747.0,1200.4 1756.0,1208.7 1762.5,1212.1 1776.0,1217.2 1793.0,1221.6 1812.0,1225.0 1896.0,1234.7 1991.5,1248.1 2018.5,1250.4 2094.5,1255.2 2127.0,1256.9 2151.5,1257.6 2166.5,1257.2 2170.0,1254.8 2172.5,1250.8 2173.5,1250.4 2174.5,1252.0 2176.5,1257.8 2179.0,1263.1 2181.0,1264.9 2184.0,1265.8 2185.0,1265.3 2187.5,1262.1 2190.0,1260.8 2192.0,1260.4 2198.0,1260.2 2236.0,1261.0 2323.5,1263.7 2414.0,1265.6" stroke="#000" stroke-width="4.2" fill="none" stroke-linejoin="round"/><path d="M256.0,1143.0 315.5,1131.5 339.5,1128.0 354.0,1125.1 376.0,1121.9 392.0,1120.7 407.5,1121.0 426.5,1122.7 475.0,1131.4 489.0,1134.3 506.5,1135.7 530.5,1136.2 550.5,1135.5 553.0,1135.0 555.0,1134.2 556.0,1131.5 558.0,1121.6 558.5,1120.2 559.0,1119.9 560.0,1122.6 562.0,1133.2 562.5,1134.8 563.0,1135.4 563.5,1135.3 567.0,1131.5 582.5,1119.1 614.0,1103.8 625.5,1097.6 639.0,1088.9 659.5,1074.1 666.0,1068.6 671.0,1063.6 684.5,1048.3 698.0,1034.0 706.0,1023.7 713.5,1010.6 725.0,986.3 733.5,966.3 744.5,938.2 755.5,908.1 761.0,891.5 766.0,873.7 771.5,851.2 777.5,823.7 783.5,792.1 801.5,681.2 809.5,626.1 821.5,535.1 833.5,451.2 839.0,410.0 850.0,335.2 853.0,318.2 872.5,223.3 874.0,218.0 876.5,211.4 879.5,205.2 889.5,189.9 892.5,185.9 895.5,183.0 897.5,181.8 900.0,181.5 902.5,182.3 905.0,185.8 908.0,192.0 915.0,209.1 921.5,219.9 924.0,227.4 938.5,282.6 945.5,320.6 951.5,347.6 955.0,361.4 960.0,377.5 962.5,387.1 968.5,424.5 973.5,448.3 980.0,474.4 986.5,496.4 994.0,517.9 1001.0,533.8 1009.0,548.9 1024.0,573.9 1029.5,585.9 1036.5,606.6 1058.5,682.5 1075.5,746.9 1093.5,832.5 1110.5,916.4 1127.0,992.0 1136.0,1028.5 1145.0,1058.9 1160.5,1106.1 1178.0,1145.8 1182.0,1153.7 1188.5,1163.3 1197.5,1173.7 1209.0,1184.9 1224.0,1197.9 1229.0,1201.0 1236.5,1204.1 1245.5,1206.8 1255.0,1208.9 1258.0,1213.9 1262.0,1212.8 1274.5,1216.9 1279.0,1217.9 1304.5,1219.9 1328.5,1220.6 1348.0,1220.1 1371.0,1218.2 1385.5,1216.4 1398.0,1213.0 1407.5,1209.4 1435.5,1197.7 1463.5,1184.8 1491.5,1173.5 1498.5,1171.1 1505.0,1169.5 1513.0,1168.2 1519.5,1167.7 1527.5,1168.9 1554.5,1171.5 1594.5,1178.1 1610.0,1180.0 1620.0,1180.2 1638.0,1179.5 1669.0,1177.6 1678.0,1177.7 1684.5,1178.5 1708.5,1183.1 1720.5,1189.3 1740.5,1195.3 1746.5,1198.4 1756.0,1207.0 1763.5,1211.0 1770.0,1213.8 1777.5,1216.4 1796.0,1221.3 1814.0,1224.5 1858.0,1229.2 1899.0,1234.2 1994.0,1247.7 2018.5,1249.8 2095.0,1255.1 2128.0,1256.9 2153.0,1257.7 2163.0,1257.7 2167.0,1257.3 2170.0,1255.0 2172.5,1250.7 2173.5,1250.1 2174.5,1251.7 2177.0,1258.8 2179.0,1262.5 2181.0,1264.2 2184.0,1265.0 2185.0,1264.6 2187.5,1262.0 2189.5,1261.1 2191.5,1260.6 2197.5,1260.5 2325.5,1263.8 2414.0,1265.5" stroke="#000" stroke-width="4.2" fill="none" stroke-linejoin="round"/><path d="M256.0,1142.8 315.0,1130.8 339.5,1127.1 354.5,1123.9 376.5,1120.6 392.0,1119.3 407.0,1119.7 426.0,1121.5 456.0,1127.4 474.5,1130.6 489.0,1133.8 506.0,1135.2 527.5,1135.7 550.0,1135.0 552.5,1134.6 554.5,1133.8 555.5,1132.7 558.0,1121.1 558.5,1119.8 559.0,1119.5 560.0,1122.2 562.0,1132.3 562.5,1133.7 563.0,1134.3 563.5,1134.3 567.0,1130.8 582.5,1118.5 588.0,1115.6 615.0,1102.8 626.0,1096.9 639.0,1088.5 659.0,1074.1 666.0,1068.3 671.5,1062.9 684.0,1049.0 698.5,1033.8 706.5,1023.6 714.0,1010.6 725.5,987.0 734.5,966.1 746.0,937.1 756.0,910.2 761.5,893.8 766.5,876.3 772.5,852.1 778.5,825.0 784.0,796.3 802.5,684.5 810.0,633.9 821.5,549.2 833.5,466.4 839.5,421.5 850.0,351.4 853.0,334.6 872.0,242.8 874.5,233.7 877.0,227.3 880.0,221.4 891.0,204.1 896.0,198.4 898.0,197.2 900.5,196.8 902.5,197.3 905.0,200.4 908.0,206.0 914.0,219.4 916.5,223.7 920.5,229.2 923.0,234.8 938.0,287.8 945.5,325.2 951.5,350.3 955.0,363.1 960.0,378.1 962.5,387.0 964.0,394.2 968.0,419.0 971.0,433.4 977.5,459.7 984.0,482.6 993.0,510.2 1001.0,530.4 1010.0,549.7 1024.5,577.1 1030.5,591.1 1035.5,605.3 1042.0,625.6 1058.0,680.7 1075.5,746.9 1093.5,832.5 1111.0,918.8 1129.5,1002.7 1134.5,1022.8 1140.0,1042.7 1156.5,1094.7 1160.0,1104.8 1163.0,1112.2 1170.5,1128.3 1179.0,1147.9 1184.0,1157.0 1190.5,1165.8 1199.0,1175.3 1216.5,1191.7 1224.5,1198.3 1229.5,1201.2 1236.5,1204.1 1245.5,1206.8 1255.0,1208.9 1258.0,1213.9 1262.0,1212.8 1274.5,1216.9 1279.0,1217.9 1305.0,1219.9 1329.0,1220.6 1349.0,1220.0 1372.0,1218.1 1387.5,1216.0 1394.5,1214.2 1402.0,1211.6 1437.0,1197.0 1464.5,1184.4 1494.5,1172.4 1506.0,1169.3 1513.5,1168.1 1519.5,1167.7 1527.5,1168.9 1554.5,1171.5 1594.5,1178.1 1610.0,1180.0 1620.0,1180.2 1638.0,1179.5 1669.0,1177.6 1678.0,1177.7 1684.5,1178.5 1708.5,1183.1 1720.5,1189.3 1740.5,1195.3 1746.5,1198.4 1756.0,1207.0 1763.5,1211.0 1770.0,1213.8 1777.5,1216.4 1796.0,1221.3 1814.0,1224.5 1858.0,1229.2 1899.0,1234.2 1994.0,1247.7 2018.5,1249.8 2095.0,1255.1 2128.0,1256.9 2153.0,1257.7 2163.0,1257.7 2167.0,1257.3 2170.0,1255.0 2172.5,1250.7 2173.5,1250.1 2174.5,1251.7 2177.0,1258.8 2179.0,1262.5 2181.0,1264.2 2184.0,1265.0 2185.0,1264.6 2187.5,1262.0 2189.5,1261.1 2191.5,1260.6 2197.5,1260.5 2325.5,1263.8 2414.0,1265.5" stroke="#000" stroke-width="4.2" fill="none" stroke-linejoin="round"/><path d="M256.0,1142.5 287.5,1136.0 315.0,1129.8 339.0,1126.0 354.0,1122.5 376.0,1118.9 391.5,1117.5 406.5,1117.9 425.5,1119.8 454.5,1126.1 474.5,1129.6 489.0,1133.1 505.0,1134.5 524.5,1135.1 545.0,1134.6 551.5,1134.0 554.0,1133.3 555.0,1132.7 555.5,1131.8 558.0,1120.5 558.5,1119.3 559.0,1119.1 560.0,1121.7 562.0,1131.0 562.5,1132.3 563.0,1132.9 563.5,1132.8 583.0,1117.4 589.0,1114.2 615.5,1101.8 626.0,1096.3 638.5,1088.4 658.5,1074.0 666.0,1068.0 671.5,1062.6 698.0,1034.9 706.5,1024.4 714.0,1012.0 725.5,989.4 734.5,969.1 746.5,939.8 756.5,913.7 762.0,897.6 767.5,878.7 773.5,855.2 779.0,831.1 784.0,805.8 803.5,691.7 810.5,646.0 822.0,564.6 832.5,493.8 840.0,438.2 850.0,373.1 853.5,354.3 872.0,265.9 874.5,256.9 877.0,250.4 879.5,245.2 891.5,225.3 894.5,221.3 897.0,218.8 899.0,217.7 901.5,217.3 903.5,218.2 905.5,220.8 908.0,224.7 913.5,235.3 916.0,238.9 920.5,244.2 923.0,249.3 938.0,297.7 945.5,331.4 951.5,354.0 955.0,365.5 960.0,378.8 962.5,386.8 964.0,393.2 968.0,415.3 971.0,428.2 977.5,451.7 984.0,472.3 993.0,497.4 1001.5,516.9 1011.0,535.3 1024.5,558.3 1030.5,570.9 1036.0,584.6 1044.5,607.6 1056.0,645.0 1060.5,661.3 1075.5,720.6 1094.0,813.0 1111.0,900.7 1130.0,991.0 1135.0,1011.9 1140.5,1032.6 1159.0,1094.8 1163.0,1105.6 1171.0,1123.9 1179.0,1143.8 1182.0,1150.1 1185.5,1156.0 1192.0,1165.1 1201.0,1175.4 1218.0,1192.1 1225.5,1198.5 1230.0,1201.1 1236.5,1203.9 1255.0,1209.2 1258.0,1213.7 1262.0,1213.1 1278.0,1218.0 1295.5,1219.6 1314.0,1220.7 1330.5,1221.0 1345.5,1220.6 1362.0,1219.5 1381.0,1217.6 1387.5,1216.5 1395.0,1214.5 1406.0,1210.6 1435.5,1198.6 1462.5,1186.7 1489.5,1175.9 1500.5,1172.3 1510.5,1170.3 1519.5,1169.5 1527.5,1170.5 1550.5,1172.3 1595.5,1178.4 1610.5,1179.9 1619.5,1179.9 1638.5,1178.7 1666.0,1176.4 1679.0,1176.4 1684.5,1177.0 1709.0,1181.6 1720.0,1187.6 1737.5,1193.1 1744.0,1195.8 1747.5,1198.2 1755.5,1205.7 1766.0,1211.3 1779.0,1216.2 1797.5,1221.1 1814.5,1224.1 1857.0,1228.6 1898.0,1233.5 1990.5,1246.9 2015.5,1249.2 2093.5,1255.0 2127.0,1256.9 2153.0,1257.8 2163.0,1257.8 2167.0,1257.4 2170.0,1255.1 2172.5,1250.7 2173.5,1250.0 2174.5,1251.6 2177.0,1258.7 2179.0,1262.2 2181.0,1263.8 2184.0,1264.5 2185.0,1264.2 2187.5,1261.9 2189.5,1261.2 2191.5,1260.8 2196.5,1260.7 2326.5,1263.9 2414.0,1265.4" stroke="#000" stroke-width="4.2" fill="none" stroke-linejoin="round"/><path d="M256.0,1142.2 287.5,1135.3 314.5,1128.8 339.0,1124.8 354.5,1121.0 376.5,1117.1 391.5,1115.7 406.0,1116.1 425.0,1118.1 454.0,1124.9 474.5,1128.6 488.5,1132.4 504.0,1133.9 521.0,1134.5 540.5,1134.2 550.5,1133.4 553.5,1132.7 555.0,1131.9 555.5,1131.0 558.0,1119.9 558.5,1118.8 559.0,1118.6 560.0,1121.1 562.0,1129.8 562.5,1130.9 563.5,1131.4 571.0,1126.3 583.0,1116.5 589.5,1113.1 616.5,1100.7 626.0,1095.7 638.0,1088.2 658.0,1073.9 666.0,1067.6 672.0,1061.9 698.0,1035.4 707.0,1024.5 715.0,1011.6 726.0,990.8 735.0,971.1 748.0,940.1 757.0,917.2 762.5,901.5 768.5,881.4 775.0,856.6 780.0,835.0 784.5,812.7 804.0,702.3 811.0,658.3 831.5,521.1 841.5,448.5 850.0,394.9 855.5,366.7 872.0,289.0 875.0,278.6 880.0,267.2 892.5,245.6 895.0,242.1 897.5,239.5 899.5,238.3 902.0,237.6 903.5,238.2 905.5,240.2 913.5,252.1 920.5,259.3 923.0,263.9 938.0,307.6 945.5,337.6 951.0,356.0 955.0,367.8 960.0,379.6 962.5,386.6 968.0,411.6 970.5,421.3 976.5,440.8 982.5,458.1 992.5,483.8 1001.0,502.3 1011.0,521.3 1024.0,543.3 1029.5,554.5 1045.0,593.8 1057.5,631.7 1063.5,654.2 1075.5,703.0 1094.5,801.0 1111.0,888.7 1123.0,948.7 1130.5,984.0 1135.5,1005.4 1141.0,1026.7 1160.5,1094.5 1179.5,1142.3 1182.5,1148.7 1186.5,1155.5 1193.5,1165.3 1202.5,1175.8 1219.0,1192.5 1226.5,1198.8 1231.0,1201.4 1237.0,1203.9 1255.0,1209.3 1258.0,1213.6 1262.0,1213.2 1278.0,1218.1 1296.0,1219.9 1314.5,1221.0 1331.5,1221.3 1347.0,1220.8 1363.0,1219.7 1381.5,1217.8 1388.0,1216.7 1395.0,1214.8 1406.0,1211.0 1436.0,1199.1 1462.5,1187.7 1490.0,1176.9 1500.5,1173.4 1509.5,1171.6 1519.5,1170.7 1550.0,1173.1 1596.0,1178.6 1610.5,1179.9 1623.0,1179.4 1665.5,1175.6 1679.0,1175.4 1684.0,1176.0 1695.0,1178.2 1709.0,1180.4 1720.0,1186.7 1737.5,1192.3 1744.0,1195.1 1747.5,1197.5 1755.5,1205.0 1766.0,1210.7 1779.5,1215.8 1798.5,1221.0 1815.0,1223.9 1856.0,1228.1 1897.5,1233.1 1990.5,1246.6 2015.0,1249.0 2093.5,1255.0 2127.5,1256.9 2154.0,1257.8 2167.0,1257.5 2170.0,1255.2 2172.5,1250.7 2173.5,1249.9 2174.5,1251.5 2177.0,1258.6 2179.0,1261.9 2181.0,1263.5 2184.0,1264.2 2185.0,1263.9 2187.5,1261.9 2189.0,1261.3 2191.5,1260.8 2196.0,1260.8 2327.0,1263.9 2414.0,1265.4" stroke="#000" stroke-width="4.2" fill="none" stroke-linejoin="round"/><path d="M256.0,1142.0 287.5,1135.0 314.5,1128.3 339.0,1124.2 354.5,1120.2 376.5,1116.2 391.5,1114.8 405.0,1115.1 423.0,1116.9 432.0,1118.7 454.0,1124.3 474.5,1128.0 488.0,1132.0 503.0,1133.5 519.5,1134.2 539.5,1133.9 550.5,1133.0 553.5,1132.3 555.0,1131.4 555.5,1130.6 558.0,1119.6 558.5,1118.5 559.0,1118.3 560.0,1120.8 562.0,1129.1 562.5,1130.2 563.5,1130.7 571.0,1125.9 580.0,1118.3 583.5,1115.8 590.0,1112.4 617.0,1100.1 626.0,1095.4 638.0,1087.9 657.5,1074.1 666.0,1067.4 672.0,1061.7 698.0,1035.6 707.0,1025.0 715.0,1012.4 726.0,992.1 735.0,972.7 748.0,942.2 757.0,919.7 763.0,902.8 769.0,883.0 775.5,858.6 780.5,837.2 784.5,817.7 805.0,703.4 811.5,663.2 831.0,534.9 841.5,458.9 850.0,406.1 856.0,375.7 872.0,300.8 875.0,290.5 880.0,279.0 892.5,256.8 895.0,253.1 897.5,250.3 899.5,248.9 902.0,248.1 903.5,248.5 905.5,250.3 908.0,253.2 913.0,260.3 920.5,267.0 923.0,271.4 938.0,312.7 945.5,340.7 951.0,358.0 955.0,368.9 960.0,380.0 962.5,386.5 968.0,409.8 970.5,418.7 976.5,436.7 982.0,451.4 990.5,471.9 997.5,486.6 1007.5,504.8 1024.0,530.9 1029.0,540.3 1044.5,576.8 1055.0,606.4 1059.0,619.0 1063.5,635.9 1075.5,685.5 1111.0,876.6 1123.0,938.5 1130.5,974.9 1140.0,1015.1 1158.5,1083.3 1162.5,1095.5 1171.0,1116.6 1179.0,1138.3 1182.0,1145.3 1186.0,1152.6 1193.0,1163.0 1202.5,1174.7 1219.5,1192.5 1227.0,1198.9 1231.0,1201.2 1236.5,1203.6 1255.0,1209.5 1258.0,1213.5 1262.0,1213.4 1278.0,1218.3 1296.5,1220.1 1315.0,1221.3 1332.0,1221.6 1348.0,1221.1 1381.5,1218.2 1388.0,1217.0 1395.0,1215.2 1406.0,1211.4 1436.5,1199.5 1462.0,1188.9 1490.5,1177.8 1500.5,1174.5 1509.0,1172.8 1519.5,1171.9 1549.5,1173.9 1597.0,1178.9 1610.0,1179.8 1621.5,1179.3 1665.5,1174.8 1679.5,1174.5 1709.0,1179.3 1720.0,1185.7 1737.5,1191.5 1744.0,1194.3 1747.5,1196.8 1755.5,1204.4 1766.0,1210.1 1779.5,1215.3 1799.0,1220.8 1815.0,1223.6 1856.0,1227.7 1897.5,1232.7 1990.5,1246.3 2014.5,1248.7 2093.5,1254.9 2127.5,1256.9 2154.5,1257.9 2167.0,1257.6 2170.0,1255.3 2172.5,1250.6 2173.5,1249.8 2174.5,1251.4 2176.5,1257.5 2179.0,1261.7 2181.0,1263.2 2184.0,1263.9 2185.0,1263.6 2187.5,1261.8 2189.0,1261.3 2191.5,1260.9 2195.5,1260.9 2327.0,1264.0 2414.0,1265.4" stroke="#000" stroke-width="4.2" fill="none" stroke-linejoin="round"/><path d="M256.0,1141.9 287.0,1134.8 318.0,1127.1 339.0,1123.7 353.0,1119.9 369.5,1116.7 381.0,1114.9 391.0,1114.1 404.5,1114.4 423.0,1116.2 432.0,1118.1 453.5,1123.7 474.5,1127.6 488.0,1131.7 503.0,1133.2 518.5,1133.9 538.0,1133.7 549.5,1132.8 553.0,1132.1 555.0,1131.1 555.5,1130.2 558.0,1119.3 558.5,1118.3 559.0,1118.2 560.0,1120.6 562.0,1128.6 562.5,1129.7 563.5,1130.1 571.0,1125.6 580.0,1117.9 583.5,1115.4 590.5,1111.8 617.0,1099.8 626.0,1095.2 637.5,1088.0 657.0,1074.2 665.5,1067.6 672.0,1061.6 698.0,1035.8 707.5,1024.6 716.0,1011.3 726.5,992.1 735.5,972.8 748.5,942.8 757.5,920.4 763.0,905.1 769.5,883.9 776.0,859.9 780.5,840.9 784.5,821.6 806.0,703.3 812.5,663.4 831.0,543.3 842.0,464.1 850.5,412.3 857.0,380.2 872.0,310.4 875.5,298.7 880.0,288.5 893.5,264.2 898.0,258.6 900.5,257.0 902.5,256.5 904.0,257.1 906.0,258.8 913.5,267.8 919.5,272.1 921.5,274.6 923.0,277.4 938.0,316.8 945.5,343.3 951.0,359.6 955.0,369.9 960.0,380.3 962.5,386.4 968.0,408.2 970.5,416.6 976.0,432.1 981.5,445.9 990.0,464.9 997.0,478.6 1007.5,496.0 1024.0,519.6 1029.0,528.2 1045.0,563.2 1056.0,592.6 1059.5,603.6 1064.0,620.0 1075.0,665.5 1111.5,867.3 1123.0,928.2 1130.5,965.7 1140.0,1007.2 1159.0,1080.2 1162.5,1091.1 1171.0,1112.9 1179.5,1136.9 1182.5,1143.9 1186.0,1150.5 1193.5,1162.1 1202.5,1173.5 1220.0,1192.5 1227.5,1198.9 1231.5,1201.2 1236.5,1203.4 1255.0,1209.6 1258.0,1213.5 1262.0,1213.5 1273.0,1217.2 1278.0,1218.4 1297.0,1220.4 1315.5,1221.6 1332.5,1221.8 1349.0,1221.3 1381.5,1218.5 1388.0,1217.3 1395.0,1215.5 1405.5,1212.0 1437.0,1199.9 1491.0,1178.7 1500.5,1175.7 1508.5,1174.1 1519.5,1173.1 1549.0,1174.7 1600.5,1179.3 1610.0,1179.8 1620.5,1179.1 1665.0,1174.0 1679.5,1173.6 1684.5,1174.2 1695.0,1176.3 1709.0,1178.2 1720.0,1184.7 1737.5,1190.7 1744.0,1193.6 1747.0,1195.7 1755.5,1203.7 1766.5,1209.7 1780.0,1215.0 1800.0,1220.6 1815.5,1223.4 1855.5,1227.3 1896.5,1232.2 1990.5,1246.1 2014.0,1248.5 2093.5,1254.9 2127.5,1256.9 2155.0,1257.9 2167.0,1257.6 2170.0,1255.4 2172.5,1250.6 2173.5,1249.7 2174.5,1251.2 2176.5,1257.5 2178.5,1260.8 2180.5,1262.7 2184.0,1263.6 2188.0,1261.6 2191.0,1261.0 2194.5,1261.0 2327.5,1264.0 2414.0,1265.3" stroke="#000" stroke-width="4.2" fill="none" stroke-linejoin="round"/><path d="M256.0,1141.6 287.0,1134.2 317.5,1126.2 339.0,1122.6 353.0,1118.6 370.0,1115.2 381.5,1113.3 391.0,1112.5 404.5,1112.8 423.0,1114.8 431.5,1116.7 453.0,1122.7 474.5,1126.7 488.0,1131.1 502.0,1132.6 516.5,1133.4 536.5,1133.3 548.0,1132.3 553.0,1131.4 555.0,1130.4 555.5,1129.5 558.0,1118.8 558.5,1117.8 559.0,1117.7 560.0,1120.1 562.0,1127.5 563.0,1128.8 564.0,1128.7 571.0,1125.0 581.0,1116.4 585.0,1113.8 618.5,1098.5 629.0,1093.0 639.0,1086.6 656.5,1074.2 665.5,1067.3 672.5,1061.0 698.0,1036.3 703.5,1030.3 708.0,1024.7 716.5,1011.8 726.5,994.3 735.5,975.6 749.0,945.2 757.5,924.7 763.5,908.5 770.0,888.0 776.5,864.8 781.0,846.4 784.5,830.0 790.0,799.2 801.0,743.2 806.0,715.8 813.0,674.5 830.0,567.6 835.5,529.9 839.0,501.5 844.0,469.5 851.0,428.7 864.5,364.2 872.5,328.4 874.5,321.7 877.5,313.7 890.0,289.4 894.5,281.4 897.0,278.0 899.0,275.9 901.5,274.3 903.0,274.1 905.0,275.0 907.5,276.9 913.0,282.2 919.0,285.0 921.0,286.9 923.0,290.1 938.0,325.4 945.0,347.2 950.5,361.7 954.5,370.9 960.5,381.9 963.0,387.5 969.5,409.5 977.5,428.9 987.5,449.1 995.5,463.5 1008.5,483.2 1023.5,504.0 1028.0,511.7 1044.5,549.5 1055.5,579.6 1059.0,590.3 1064.0,608.3 1075.0,652.4 1095.0,763.8 1111.0,855.6 1128.0,946.5 1133.5,973.0 1139.0,997.1 1159.0,1076.5 1162.5,1087.8 1171.0,1110.2 1179.5,1134.9 1182.5,1142.1 1186.5,1149.8 1194.0,1161.6 1203.0,1173.2 1220.0,1192.1 1224.5,1196.4 1228.0,1199.1 1236.5,1203.3 1255.0,1209.7 1258.0,1213.4 1262.0,1213.6 1273.0,1217.3 1278.0,1218.6 1297.0,1220.6 1316.0,1221.8 1333.0,1222.1 1350.0,1221.5 1381.5,1218.7 1388.0,1217.6 1395.0,1215.8 1405.5,1212.3 1437.5,1200.2 1491.5,1179.4 1500.5,1176.6 1508.0,1175.0 1519.5,1174.0 1548.5,1175.3 1609.5,1179.8 1620.0,1179.0 1664.5,1173.4 1672.5,1172.9 1679.5,1172.9 1684.5,1173.5 1695.0,1175.5 1709.0,1177.3 1720.0,1184.0 1737.5,1190.1 1744.0,1193.1 1747.0,1195.2 1755.5,1203.2 1766.5,1209.3 1780.0,1214.7 1800.5,1220.5 1816.0,1223.2 1855.0,1227.0 1896.5,1231.9 1991.0,1245.9 2014.0,1248.3 2093.5,1254.8 2128.0,1256.9 2156.0,1258.0 2167.0,1257.7 2170.0,1255.4 2172.5,1250.6 2173.5,1249.7 2174.5,1251.2 2176.5,1257.4 2178.5,1260.7 2180.5,1262.5 2184.0,1263.3 2188.0,1261.6 2193.5,1261.1 2327.0,1264.0 2414.0,1265.3" stroke="#000" stroke-width="4.2" fill="none" stroke-linejoin="round"/><path d="M256.0,1141.5 287.5,1134.0 314.5,1126.7 322.5,1125.0 339.0,1122.4 354.5,1118.0 376.5,1113.7 392.0,1112.1 406.5,1112.6 425.0,1114.8 453.0,1122.5 474.5,1126.5 485.5,1130.3 490.0,1131.2 506.5,1132.8 524.5,1133.4 539.0,1133.0 552.0,1131.6 554.5,1130.5 555.5,1129.3 557.5,1120.5 558.5,1117.7 559.0,1117.7 559.5,1118.5 562.0,1127.3 563.0,1128.5 564.0,1128.5 571.0,1124.8 580.5,1116.7 584.5,1113.9 622.0,1096.7 630.0,1092.3 639.0,1086.4 659.0,1072.2 668.5,1064.6 697.5,1036.9 703.5,1030.5 708.0,1024.9 716.5,1012.2 726.5,994.8 735.5,976.2 749.5,944.9 758.0,924.5 763.5,909.6 770.5,887.7 777.0,864.5 781.5,846.0 785.0,829.4 789.5,803.9 801.0,745.8 807.0,713.0 814.0,671.6 830.0,571.6 835.5,534.0 839.0,505.5 844.0,473.6 851.0,433.1 864.5,368.7 872.5,333.0 874.5,326.3 877.5,318.3 890.5,292.8 894.5,285.7 897.0,282.2 899.0,280.1 901.5,278.4 903.0,278.1 904.5,278.6 906.5,279.9 913.0,285.6 919.0,288.0 921.0,289.9 923.0,293.0 938.0,327.4 945.0,348.5 950.5,362.5 954.5,371.4 960.5,382.0 963.0,387.4 969.5,408.6 977.5,427.2 987.5,446.4 995.5,459.9 1009.0,478.8 1023.5,497.3 1028.0,504.5 1045.0,540.9 1056.5,570.9 1060.0,581.8 1064.5,597.8 1075.0,639.5 1095.0,753.0 1111.0,846.5 1128.0,939.3 1133.5,966.4 1139.0,991.1 1159.5,1074.7 1163.0,1085.9 1171.0,1107.5 1180.0,1134.2 1183.0,1141.4 1187.0,1149.2 1195.0,1161.8 1204.0,1173.6 1220.5,1192.2 1225.0,1196.6 1228.5,1199.2 1236.5,1203.2 1254.5,1209.6 1255.5,1210.3 1258.0,1213.3 1262.0,1213.7 1272.5,1217.3 1278.0,1218.7 1297.5,1220.8 1316.5,1222.0 1333.5,1222.3 1351.0,1221.6 1381.5,1218.9 1388.0,1217.8 1395.5,1215.9 1405.5,1212.6 1438.5,1200.4 1492.0,1180.1 1500.5,1177.4 1507.5,1176.0 1519.5,1174.9 1547.5,1176.0 1609.5,1179.8 1619.5,1178.9 1664.0,1172.8 1672.0,1172.2 1679.5,1172.2 1684.5,1172.8 1695.0,1174.8 1709.0,1176.5 1720.0,1183.3 1737.5,1189.5 1744.0,1192.5 1747.0,1194.7 1755.5,1202.8 1766.5,1208.9 1780.5,1214.5 1801.0,1220.4 1816.0,1223.0 1855.0,1226.7 1896.0,1231.6 1991.0,1245.7 2013.5,1248.1 2093.5,1254.8 2128.0,1256.9 2156.5,1258.0 2167.0,1257.8 2170.0,1255.5 2172.5,1250.5 2173.5,1249.6 2174.5,1251.1 2176.5,1257.4 2178.5,1260.6 2181.0,1262.5 2184.0,1263.1 2188.0,1261.6 2192.0,1261.1 2327.0,1264.1 2414.0,1265.2" stroke="#000" stroke-width="4.2" fill="none" stroke-linejoin="round"/><path d="M256.0,1141.2 287.5,1133.3 314.0,1125.8 322.0,1124.0 339.0,1121.2 354.5,1116.5 376.5,1112.0 384.5,1110.9 392.0,1110.3 406.0,1110.8 424.5,1113.1 432.0,1115.0 452.5,1121.2 474.5,1125.5 485.0,1129.4 489.5,1130.5 506.5,1132.2 524.5,1132.8 538.5,1132.4 552.0,1130.8 554.5,1129.7 555.5,1128.5 557.5,1119.8 558.5,1117.1 559.0,1117.2 559.5,1118.0 561.5,1124.8 562.5,1126.8 564.0,1127.1 568.5,1125.4 572.5,1123.0 580.5,1115.9 584.5,1113.1 597.0,1107.1 622.0,1096.0 629.5,1092.0 638.0,1086.6 659.0,1071.8 668.5,1064.3 697.0,1037.9 703.5,1031.1 708.5,1025.2 718.0,1011.5 727.0,996.3 736.0,978.3 750.0,948.0 758.5,928.2 764.5,912.4 771.5,891.3 778.0,868.9 785.0,839.1 790.0,811.5 802.0,753.8 809.5,714.0 830.0,591.9 835.5,554.5 839.0,525.6 844.0,494.1 851.0,455.0 865.5,386.6 873.0,354.3 878.0,340.2 895.0,306.4 899.5,300.4 902.0,298.5 903.5,298.2 907.5,299.6 912.5,302.5 918.5,303.0 921.0,304.9 923.0,307.6 938.0,337.3 945.0,355.0 949.5,364.6 954.5,373.9 960.5,382.6 963.0,387.0 968.5,401.8 974.0,412.9 981.5,425.1 993.5,442.1 1021.5,474.6 1025.0,479.2 1028.0,484.3 1031.0,490.6 1046.5,527.7 1059.0,564.8 1065.0,587.2 1075.0,627.6 1094.0,736.3 1111.5,840.4 1128.0,932.2 1138.5,982.9 1159.5,1071.1 1163.0,1082.7 1171.0,1104.7 1180.0,1132.3 1183.0,1139.7 1187.0,1147.7 1195.0,1160.7 1204.0,1172.7 1221.0,1192.4 1225.0,1196.3 1229.0,1199.4 1236.5,1203.1 1254.0,1209.5 1255.5,1210.4 1258.0,1213.3 1262.0,1213.8 1272.5,1217.4 1278.0,1218.8 1298.0,1221.0 1317.0,1222.2 1334.0,1222.5 1352.0,1221.8 1382.0,1219.1 1388.5,1217.9 1395.5,1216.2 1405.0,1213.1 1439.5,1200.5 1492.5,1180.8 1500.0,1178.4 1507.0,1176.9 1519.5,1175.8 1555.5,1176.9 1609.5,1179.7 1619.0,1178.9 1664.0,1172.2 1672.0,1171.5 1679.5,1171.5 1684.5,1172.0 1695.0,1174.1 1709.0,1175.6 1720.0,1182.6 1737.5,1188.9 1743.5,1191.7 1747.0,1194.2 1755.5,1202.3 1766.5,1208.4 1780.5,1214.1 1801.5,1220.2 1816.5,1222.9 1855.0,1226.4 1896.0,1231.3 1991.0,1245.5 2013.0,1247.9 2093.5,1254.8 2128.0,1256.9 2157.0,1258.0 2166.0,1258.1 2167.5,1257.6 2170.5,1254.9 2172.5,1250.5 2173.5,1249.5 2174.5,1251.0 2176.5,1257.4 2178.5,1260.4 2181.0,1262.3 2184.0,1262.9 2188.0,1261.5 2192.0,1261.2 2326.0,1264.1 2414.0,1265.2" stroke="#000" stroke-width="4.2" fill="none" stroke-linejoin="round"/><path d="M256.0,1141.1 287.5,1133.1 314.0,1125.5 322.0,1123.7 339.0,1120.9 354.5,1116.1 377.0,1111.4 392.0,1109.8 406.0,1110.3 424.5,1112.7 432.0,1114.6 452.5,1120.9 474.5,1125.2 485.0,1129.2 489.5,1130.3 506.5,1132.0 524.5,1132.7 538.5,1132.2 552.0,1130.6 554.5,1129.5 555.5,1128.2 557.5,1119.6 558.5,1117.0 559.0,1117.1 559.5,1117.9 561.5,1124.5 562.5,1126.4 564.0,1126.7 568.5,1125.2 572.5,1122.8 580.5,1115.6 584.5,1112.8 597.0,1106.8 622.5,1095.6 630.0,1091.6 638.0,1086.5 659.0,1071.6 668.5,1064.2 697.0,1038.0 703.5,1031.3 709.0,1024.8 718.5,1011.2 727.0,997.1 735.5,980.3 750.0,949.2 758.5,929.7 764.5,914.1 771.5,893.3 778.0,871.3 785.0,841.9 790.0,814.4 802.5,755.1 810.0,715.6 830.0,597.6 835.5,560.4 839.0,531.4 844.0,500.0 851.0,461.3 866.0,390.8 873.0,360.9 878.0,346.8 891.5,319.1 895.5,311.7 898.0,308.0 900.0,305.8 902.0,304.3 904.0,303.9 907.5,305.0 912.5,307.5 918.5,307.4 920.5,308.7 922.5,311.0 938.0,340.2 945.0,356.8 949.5,365.8 954.5,374.6 960.5,382.8 963.0,386.9 968.5,400.7 973.5,410.2 980.5,420.8 992.5,436.5 1020.5,466.4 1025.0,471.8 1028.5,477.6 1033.5,488.4 1046.5,519.5 1059.0,556.6 1065.0,579.1 1075.0,619.5 1094.0,729.0 1111.5,834.4 1128.0,927.5 1139.0,981.1 1160.0,1070.6 1163.5,1082.0 1171.5,1104.4 1180.0,1131.0 1183.0,1138.5 1187.0,1146.6 1195.0,1159.9 1204.0,1172.2 1221.0,1192.2 1225.0,1196.2 1229.0,1199.2 1236.5,1203.0 1254.0,1209.5 1255.5,1210.4 1258.0,1213.2 1262.0,1213.9 1272.0,1217.3 1278.0,1218.9 1298.0,1221.1 1317.5,1222.4 1334.5,1222.6 1352.5,1221.9 1382.0,1219.2 1388.5,1218.1 1395.5,1216.3 1405.0,1213.2 1440.5,1200.5 1492.5,1181.3 1500.0,1179.0 1507.0,1177.5 1519.5,1176.4 1556.0,1177.3 1609.5,1179.7 1618.5,1178.8 1663.5,1171.9 1672.5,1171.1 1680.0,1171.0 1694.5,1173.5 1709.0,1175.1 1720.0,1182.1 1737.0,1188.3 1743.5,1191.4 1747.0,1193.9 1755.5,1201.9 1766.5,1208.1 1780.5,1213.9 1801.5,1220.1 1816.5,1222.7 1855.0,1226.2 1896.0,1231.1 1991.0,1245.4 2013.0,1247.7 2093.5,1254.8 2128.5,1257.0 2157.5,1258.1 2166.0,1258.1 2167.5,1257.6 2170.5,1254.9 2172.5,1250.5 2173.5,1249.5 2174.5,1250.9 2176.5,1257.3 2178.0,1259.7 2180.5,1262.0 2184.0,1262.7 2188.0,1261.5 2192.0,1261.2 2325.0,1264.1 2414.0,1265.2" stroke="#000" stroke-width="4.2" fill="none" stroke-linejoin="round"/><path d="M256.0,1140.9 287.5,1132.6 314.0,1124.7 322.0,1122.9 339.0,1120.0 354.5,1115.0 377.0,1110.2 385.0,1109.0 392.0,1108.5 406.0,1109.0 424.5,1111.5 431.5,1113.4 452.5,1120.1 474.5,1124.5 485.0,1128.7 489.5,1129.8 507.0,1131.6 525.0,1132.2 539.0,1131.7 552.0,1130.0 554.5,1128.9 555.5,1127.6 557.5,1119.1 558.5,1116.6 559.0,1116.7 559.5,1117.5 561.5,1123.7 562.5,1125.4 564.0,1125.7 569.0,1124.4 572.5,1122.3 581.0,1114.6 585.0,1112.0 598.0,1105.8 622.0,1095.4 629.0,1091.7 637.0,1086.7 659.0,1071.3 668.5,1063.9 696.5,1038.8 703.5,1031.8 709.0,1025.5 719.5,1011.0 727.5,998.0 737.5,978.4 753.5,944.7 761.5,926.0 768.5,907.1 775.5,885.8 781.0,866.1 785.5,846.3 791.5,814.5 803.5,759.8 815.0,699.5 830.0,612.1 835.0,578.7 840.0,539.0 844.0,514.6 849.5,484.6 865.0,411.5 873.5,375.8 876.5,366.9 879.5,359.9 893.5,330.6 898.5,322.3 901.5,319.2 903.5,318.2 906.5,318.3 912.5,319.8 918.0,318.3 919.5,318.8 921.0,319.8 924.0,323.6 938.5,348.1 944.5,360.4 948.0,366.6 954.5,376.3 963.0,386.6 968.5,397.8 974.5,406.8 980.0,413.2 991.0,424.3 1010.5,440.3 1021.5,450.0 1025.0,453.8 1028.5,459.4 1033.5,470.0 1046.0,500.2 1055.5,529.1 1059.0,540.9 1075.0,606.8 1094.0,718.0 1112.0,828.4 1128.0,920.3 1138.5,972.8 1160.0,1067.0 1163.5,1078.7 1171.5,1101.7 1180.0,1129.0 1183.0,1136.7 1187.5,1146.1 1195.5,1159.5 1204.5,1172.0 1221.0,1191.8 1225.0,1195.9 1229.0,1199.1 1236.5,1202.9 1253.5,1209.4 1255.5,1210.5 1257.5,1212.8 1258.5,1213.3 1261.5,1213.9 1272.0,1217.5 1278.0,1219.0 1298.5,1221.3 1317.5,1222.6 1334.5,1222.8 1353.0,1222.0 1382.0,1219.5 1388.5,1218.3 1395.5,1216.6 1405.5,1213.4 1473.0,1189.5 1493.0,1182.0 1500.0,1179.8 1506.5,1178.5 1519.5,1177.3 1573.0,1178.3 1609.5,1179.7 1618.5,1178.7 1663.5,1171.3 1672.5,1170.4 1680.0,1170.3 1694.5,1172.8 1709.0,1174.2 1720.0,1181.4 1737.0,1187.7 1743.5,1190.8 1747.0,1193.4 1755.5,1201.4 1766.5,1207.7 1780.5,1213.5 1792.5,1217.4 1802.0,1219.9 1816.5,1222.5 1854.5,1225.9 1895.5,1230.8 1991.0,1245.2 2012.5,1247.5 2093.5,1254.7 2128.5,1257.0 2158.0,1258.1 2166.0,1258.2 2167.5,1257.7 2170.5,1255.0 2172.5,1250.5 2173.5,1249.4 2174.5,1250.9 2176.5,1257.3 2178.0,1259.6 2180.5,1261.8 2184.0,1262.5 2188.0,1261.5 2192.0,1261.3 2324.0,1264.1 2414.0,1265.2" stroke="#000" stroke-width="4.2" fill="none" stroke-linejoin="round"/><path d="M256.0,1140.8 287.0,1132.6 315.5,1124.0 339.5,1119.5 354.5,1114.6 377.0,1109.7 385.0,1108.5 392.0,1108.0 406.0,1108.5 424.5,1111.0 431.5,1112.9 452.5,1119.8 474.5,1124.2 485.0,1128.5 489.5,1129.6 507.0,1131.4 525.0,1132.1 539.0,1131.5 552.0,1129.8 554.5,1128.7 555.5,1127.4 557.5,1118.9 558.5,1116.5 559.0,1116.6 559.5,1117.4 561.5,1123.4 562.5,1125.0 564.5,1125.2 569.0,1124.2 572.5,1122.1 581.0,1114.4 585.0,1111.7 598.0,1105.5 622.5,1095.0 629.5,1091.3 637.0,1086.6 659.0,1071.2 669.0,1063.4 697.0,1038.5 704.0,1031.5 709.5,1025.2 720.5,1010.1 728.0,997.8 738.0,978.4 754.0,944.9 762.0,926.3 769.5,906.1 776.0,886.3 781.5,866.7 785.5,849.1 791.5,817.5 804.0,761.2 816.0,698.9 830.0,617.9 835.0,584.6 840.0,544.8 849.0,493.4 865.0,417.9 873.5,382.4 876.5,373.5 879.5,366.4 893.5,336.8 898.5,328.3 901.5,325.0 903.5,323.9 906.0,323.7 912.5,324.7 917.0,322.9 918.5,322.7 921.5,324.6 924.0,327.7 938.5,350.9 944.5,362.3 948.0,368.0 954.5,377.1 963.0,386.4 968.5,396.7 974.0,404.2 979.5,409.9 990.5,419.7 1010.0,433.3 1021.0,442.0 1025.0,445.9 1028.5,451.2 1034.0,462.6 1043.0,483.2 1046.5,492.3 1055.5,519.4 1059.0,531.2 1075.0,596.9 1093.5,705.8 1112.0,821.0 1128.0,914.4 1138.5,967.7 1160.0,1064.1 1163.5,1076.0 1171.5,1099.4 1180.0,1127.3 1183.0,1135.3 1187.5,1144.8 1195.5,1158.6 1205.0,1172.0 1221.5,1192.1 1225.5,1196.2 1229.5,1199.2 1236.5,1202.8 1253.0,1209.2 1255.0,1210.3 1258.5,1213.3 1262.0,1214.1 1272.5,1217.7 1278.0,1219.1 1298.5,1221.4 1318.0,1222.8 1335.0,1223.0 1354.0,1222.2 1382.0,1219.7 1388.5,1218.5 1395.5,1216.8 1472.5,1190.4 1493.5,1182.5 1500.5,1180.4 1506.5,1179.2 1520.0,1178.1 1576.0,1178.7 1609.0,1179.7 1618.0,1178.7 1663.5,1170.8 1672.5,1169.8 1680.0,1169.7 1694.5,1172.2 1709.0,1173.5 1711.5,1174.9 1717.0,1179.0 1720.0,1180.8 1737.0,1187.2 1743.5,1190.4 1746.5,1192.5 1755.5,1201.0 1766.5,1207.3 1780.5,1213.2 1792.5,1217.1 1802.0,1219.7 1816.5,1222.3 1854.5,1225.7 1895.5,1230.5 1991.0,1245.0 2012.5,1247.4 2093.5,1254.7 2128.5,1257.0 2158.5,1258.2 2166.0,1258.2 2167.5,1257.7 2170.5,1255.0 2172.5,1250.5 2173.5,1249.3 2174.5,1250.8 2176.5,1257.3 2177.5,1258.9 2180.5,1261.6 2184.0,1262.3 2188.0,1261.5 2191.5,1261.3 2323.0,1264.1 2414.0,1265.1" stroke="#000" stroke-width="4.2" fill="none" stroke-linejoin="round"/><path d="M256.0,1140.4 287.0,1131.8 315.5,1122.8 322.0,1121.3 339.5,1118.1 354.5,1112.9 377.0,1107.7 385.0,1106.5 392.0,1106.0 406.0,1106.5 424.5,1109.2 431.5,1111.2 452.0,1118.4 474.0,1122.9 485.0,1127.6 489.5,1128.9 507.5,1130.8 525.0,1131.4 539.0,1130.8 552.0,1128.9 554.5,1127.7 555.5,1126.4 557.5,1118.1 558.5,1115.8 559.5,1116.9 561.5,1122.2 562.5,1123.4 565.0,1123.7 569.5,1123.0 573.0,1120.9 581.0,1113.5 585.5,1110.5 598.5,1104.3 622.5,1094.3 629.5,1090.7 637.0,1086.0 660.0,1069.9 670.0,1062.2 697.5,1038.6 705.5,1030.7 712.0,1023.4 721.5,1011.0 728.0,1000.8 735.5,987.0 750.5,957.4 759.0,939.4 766.0,922.7 773.0,904.2 778.5,887.4 784.5,864.9 790.5,834.1 803.5,779.2 814.0,729.0 821.5,689.4 830.0,641.0 835.5,604.3 839.0,574.5 844.5,541.2 851.5,506.0 865.0,443.7 871.5,416.2 874.5,405.6 878.0,396.1 893.5,361.5 898.0,352.9 900.5,349.4 903.0,347.1 905.5,346.0 912.0,344.6 917.0,340.8 918.5,340.3 921.5,341.6 925.0,345.1 944.5,370.0 948.5,374.4 954.5,379.9 963.0,385.9 968.0,391.6 972.5,395.5 978.0,398.5 989.5,402.7 995.5,404.2 1000.0,404.5 1009.5,407.2 1019.0,410.9 1024.0,413.6 1028.0,418.2 1031.0,423.6 1036.5,435.1 1045.0,455.5 1054.0,485.2 1058.5,501.9 1074.5,577.5 1110.5,804.3 1127.0,902.8 1137.5,957.9 1159.5,1059.1 1163.0,1071.7 1171.0,1095.5 1180.0,1125.7 1183.0,1133.8 1187.5,1143.6 1195.5,1157.7 1205.0,1171.3 1222.0,1192.4 1226.0,1196.4 1230.0,1199.4 1236.5,1202.7 1252.5,1209.0 1255.0,1210.4 1258.5,1213.3 1272.0,1217.7 1278.0,1219.2 1299.0,1221.6 1318.5,1222.9 1336.0,1223.1 1355.0,1222.3 1382.0,1219.9 1388.5,1218.7 1395.5,1217.0 1472.5,1191.0 1493.5,1183.2 1500.0,1181.3 1506.0,1180.0 1520.0,1178.8 1577.0,1179.0 1609.0,1179.7 1617.5,1178.6 1663.0,1170.3 1672.0,1169.3 1680.0,1169.1 1694.5,1171.6 1709.0,1172.8 1711.5,1174.2 1719.5,1179.9 1737.5,1187.0 1743.5,1189.9 1746.5,1192.1 1755.5,1200.6 1762.0,1204.6 1769.5,1208.4 1779.5,1212.5 1794.0,1217.3 1804.5,1220.1 1814.0,1221.8 1854.0,1225.4 1892.5,1229.9 1979.0,1243.2 1997.0,1245.6 2095.5,1254.8 2135.0,1257.3 2166.0,1258.3 2167.5,1257.8 2170.0,1255.8 2172.5,1250.4 2173.5,1249.3 2174.5,1250.7 2176.5,1257.2 2177.5,1258.8 2180.5,1261.4 2184.0,1262.1 2191.5,1261.4 2322.0,1264.1 2414.0,1265.1" stroke="#000" stroke-width="4.2" fill="none" stroke-linejoin="round"/><path d="M256.0,1140.4 287.0,1131.7 315.5,1122.6 322.0,1121.0 339.5,1117.9 354.5,1112.6 377.0,1107.4 385.0,1106.1 392.0,1105.6 406.0,1106.1 424.5,1108.8 431.5,1110.9 452.0,1118.2 474.5,1122.8 485.0,1127.5 489.0,1128.7 507.0,1130.6 525.0,1131.3 539.0,1130.6 552.0,1128.8 554.5,1127.5 555.5,1126.2 557.5,1117.9 558.5,1115.7 559.5,1116.8 561.5,1122.0 562.5,1123.1 565.0,1123.4 569.5,1122.9 573.0,1120.8 581.0,1113.3 585.5,1110.3 598.5,1104.1 622.5,1094.2 629.5,1090.5 637.0,1085.9 661.0,1069.1 672.5,1060.1 698.0,1038.2 706.0,1030.4 712.5,1023.0 721.5,1011.4 728.0,1001.3 736.0,986.7 751.5,956.3 760.0,938.2 767.0,921.5 773.5,904.3 779.0,887.6 784.5,866.9 790.5,836.3 803.5,782.1 815.0,727.5 824.0,679.8 830.5,642.3 835.5,608.7 839.0,578.8 844.5,545.6 850.0,517.7 863.0,457.6 871.5,421.1 874.5,410.6 878.0,401.0 893.5,366.2 898.0,357.4 900.5,353.8 903.0,351.4 905.5,350.1 912.0,348.4 917.0,344.2 919.0,343.6 921.5,344.8 925.0,348.1 944.0,370.8 948.0,374.9 954.5,380.4 963.0,385.9 968.0,390.9 972.5,394.2 978.0,396.6 989.5,399.6 995.5,400.5 1000.0,400.4 1009.0,402.1 1019.0,405.2 1024.0,407.5 1028.0,411.8 1031.0,417.0 1036.5,428.2 1045.0,447.9 1054.0,477.0 1058.5,493.4 1074.5,568.1 1111.0,799.9 1127.5,899.7 1138.0,955.2 1160.0,1058.1 1163.5,1070.6 1171.5,1094.9 1180.0,1124.1 1183.0,1132.4 1187.5,1142.4 1195.5,1156.7 1205.0,1170.6 1222.0,1192.1 1226.0,1196.2 1230.0,1199.3 1236.5,1202.6 1252.5,1209.0 1255.0,1210.4 1258.5,1213.2 1271.5,1217.7 1278.0,1219.3 1299.0,1221.8 1318.5,1223.1 1336.0,1223.3 1356.0,1222.4 1382.0,1220.0 1395.5,1217.2 1472.5,1191.7 1494.0,1183.8 1506.0,1180.7 1520.0,1179.6 1578.0,1179.2 1609.0,1179.7 1617.5,1178.5 1662.5,1169.9 1672.0,1168.7 1680.0,1168.5 1694.5,1170.9 1707.0,1171.7 1709.0,1172.1 1711.5,1173.5 1719.5,1179.3 1737.5,1186.5 1743.5,1189.5 1746.5,1191.7 1755.5,1200.2 1762.0,1204.2 1769.5,1208.1 1779.5,1212.2 1794.0,1217.1 1804.5,1219.9 1814.0,1221.7 1854.0,1225.2 1892.5,1229.7 1979.0,1243.0 1997.5,1245.5 2096.0,1254.9 2135.0,1257.3 2166.0,1258.3 2167.5,1257.8 2170.0,1255.8 2172.5,1250.4 2173.5,1249.2 2174.5,1250.6 2177.0,1258.2 2180.0,1261.0 2181.5,1261.6 2184.0,1261.9 2191.0,1261.4 2321.0,1264.1 2414.0,1265.1" stroke="#000" stroke-width="4.2" fill="none" stroke-linejoin="round"/><path d="M256.0,1144.5 331.5,1134.4 371.0,1130.1 392.0,1128.8 412.5,1129.2 441.0,1131.1 472.0,1135.7 498.5,1138.1 520.5,1138.7 551.0,1139.0 555.0,1138.0 555.5,1137.2 558.0,1124.4 559.0,1122.0 560.0,1125.1 562.0,1138.9 563.0,1142.0 564.0,1141.3 566.5,1136.7 569.5,1133.2 574.0,1129.0 579.0,1125.2 585.5,1121.3 598.0,1115.5 607.0,1110.8 624.0,1101.2 641.0,1089.9 661.0,1074.9 666.5,1069.9 671.0,1064.9 684.5,1047.4 698.5,1031.0 705.5,1021.0 709.0,1014.5 712.5,1006.8 724.0,978.1 732.0,956.8 742.5,926.8 750.0,903.9 759.5,872.9 764.0,855.4 768.5,834.6 775.5,797.8 780.5,768.3 789.0,712.9 796.0,663.4 808.5,565.0 824.0,429.1 852.0,223.3 856.5,199.0 869.5,135.5 872.5,118.2 873.5,114.2 877.5,104.5 882.0,97.5 890.5,88.5 893.5,86.6 896.5,86.0 898.5,86.7 901.5,89.2 902.5,90.5 904.0,93.8 908.0,106.7 916.0,138.5 922.0,153.9 924.0,162.7 936.0,224.3 939.5,245.1 945.0,288.8 950.0,322.0 954.5,348.3 960.0,374.1 962.5,388.0 964.5,404.0 968.0,438.5 972.0,469.0 982.5,539.5 997.5,632.9 1005.0,675.6 1013.5,720.2 1040.5,857.0 1049.0,895.1 1054.5,914.3 1060.5,932.2 1084.0,992.2 1110.5,1070.9 1126.0,1112.4 1133.0,1129.5 1139.5,1142.3 1146.0,1151.4 1151.5,1157.3 1176.5,1181.1 1181.5,1184.3 1188.0,1187.6 1216.0,1199.6 1223.5,1202.4 1236.5,1206.0 1244.0,1207.5 1250.0,1208.0 1255.0,1207.0 1255.5,1207.6 1257.0,1212.9 1258.0,1215.0 1259.0,1214.4 1261.0,1211.6 1262.0,1211.0 1266.0,1211.6 1275.5,1215.0 1280.0,1215.9 1304.5,1216.8 1330.0,1217.1 1343.0,1216.8 1356.5,1215.9 1383.0,1212.9 1389.5,1211.5 1397.0,1208.9 1409.0,1203.5 1434.0,1190.5 1463.0,1172.5 1482.0,1163.1 1492.5,1158.6 1501.0,1155.7 1513.0,1153.0 1519.5,1152.4 1522.0,1153.6 1528.0,1155.3 1546.5,1159.3 1554.0,1161.3 1593.0,1175.6 1616.0,1181.9 1627.0,1184.3 1637.0,1185.8 1672.5,1189.0 1685.5,1190.7 1702.5,1195.5 1720.5,1201.5 1742.5,1205.5 1745.5,1206.5 1747.5,1207.6 1754.5,1214.2 1757.5,1216.2 1767.5,1220.1 1779.5,1223.2 1797.0,1226.2 1904.0,1239.5 1979.0,1249.4 1997.5,1251.3 2024.0,1252.8 2120.5,1256.7 2145.0,1257.3 2157.0,1257.2 2166.5,1256.4 2170.0,1254.0 2172.0,1251.6 2173.0,1251.0 2174.5,1253.2 2179.5,1266.4 2182.0,1268.4 2184.0,1269.0 2185.0,1268.1 2187.5,1262.7 2190.0,1260.4 2192.0,1259.5 2199.0,1259.0 2229.0,1259.5 2297.0,1262.4 2414.0,1266.0" stroke="#00508f" stroke-width="10.5" fill="none" stroke-linejoin="round" /><linearGradient id="bo" gradientUnits="userSpaceOnUse" x1="640" y1="0" x2="700" y2="0"><stop offset="0" stop-color="#00508f" stop-opacity="1"/><stop offset="1" stop-color="#00508f" stop-opacity="0"/></linearGradient><path d="M256.0,1144.5 331.5,1134.4 371.0,1130.1 392.0,1128.8 412.5,1129.2 441.0,1131.1 472.0,1135.7 498.5,1138.1 520.5,1138.7 551.0,1139.0 555.0,1138.0 555.5,1137.2 558.0,1124.4 559.0,1122.0 560.0,1125.1 562.0,1138.9 563.0,1142.0 564.0,1141.3 566.5,1136.7 569.0,1133.8 573.5,1129.4 578.5,1125.5 585.0,1121.6 598.5,1115.3 609.5,1109.5 626.5,1099.6 638.0,1092.0 653.5,1080.8 660.5,1075.4 666.0,1070.4 672.0,1063.7 685.0,1046.8 697.5,1032.3 703.5,1024.1 707.0,1018.4 710.5,1011.3 720.0,988.2" stroke="url(#bo)" stroke-width="13.5" fill="none" stroke-linejoin="round"/><linearGradient id="ba" gradientUnits="userSpaceOnUse" x1="860" y1="0" x2="930" y2="0"><stop offset="0" stop-color="#00508f" stop-opacity="0"/><stop offset="0.3" stop-color="#00508f" stop-opacity="1"/><stop offset="0.7" stop-color="#00508f" stop-opacity="1"/><stop offset="1" stop-color="#00508f" stop-opacity="0"/></linearGradient><path d="M860.0,181.9 869.5,135.5 872.5,118.2 875.0,110.1 879.5,101.0 882.0,97.5 886.5,92.4 890.0,88.9 892.5,87.1 895.0,86.1 897.0,86.0 899.0,87.0 902.0,89.7 903.5,92.6 905.5,98.3 908.5,108.6 916.0,138.5 917.5,142.9 921.0,150.9 922.5,155.7 930.0,193.7" stroke="url(#ba)" stroke-width="14" fill="none" stroke-linejoin="round"/></g>
<g><path d="M256.4,1296.5 V50.6 H2414.1 V1296.5" stroke="#000" stroke-width="9" fill="none" stroke-linejoin="round"/><path d="M233.5,1276 H2418.6" stroke="#000" stroke-width="9.5" fill="none"/><path d="M233.5,1087.7 H256" stroke="#000" stroke-width="9" fill="none"/><path d="M233.5,899.4 H256" stroke="#000" stroke-width="9" fill="none"/><path d="M233.5,711.1 H256" stroke="#000" stroke-width="9" fill="none"/><path d="M233.5,522.8 H256" stroke="#000" stroke-width="9" fill="none"/><path d="M233.5,334.5 H256" stroke="#000" stroke-width="9" fill="none"/><path d="M233.5,146.2 H256" stroke="#000" stroke-width="9" fill="none"/><path d="M526.1,1276 V1296.5" stroke="#000" stroke-width="9" fill="none"/><path d="M795.8,1276 V1296.5" stroke="#000" stroke-width="9" fill="none"/><path d="M1065.5,1276 V1296.5" stroke="#000" stroke-width="9" fill="none"/><path d="M1335.2,1276 V1296.5" stroke="#000" stroke-width="9" fill="none"/><path d="M1604.9,1276 V1296.5" stroke="#000" stroke-width="9" fill="none"/><path d="M1874.6,1276 V1296.5" stroke="#000" stroke-width="9" fill="none"/><path d="M2144.3,1276 V1296.5" stroke="#000" stroke-width="9" fill="none"/></g>
<g font-family="Carlito, 'Liberation Sans', Arial, sans-serif" font-weight="bold" font-size="63.5" fill="#000" style="font-size-adjust:cap-height 0.6484"><text x="196" y="1296.3" text-anchor="end" textLength="35.4" lengthAdjust="spacingAndGlyphs">0</text><text x="196" y="1108.0" text-anchor="end" textLength="35.4" lengthAdjust="spacingAndGlyphs">2</text><text x="196" y="919.7" text-anchor="end" textLength="35.4" lengthAdjust="spacingAndGlyphs">4</text><text x="196" y="731.4" text-anchor="end" textLength="35.4" lengthAdjust="spacingAndGlyphs">6</text><text x="196" y="543.1" text-anchor="end" textLength="35.4" lengthAdjust="spacingAndGlyphs">8</text><text x="196" y="354.8" text-anchor="end" textLength="70.8" lengthAdjust="spacingAndGlyphs">10</text><text x="196" y="166.5" text-anchor="end" textLength="70.8" lengthAdjust="spacingAndGlyphs">12</text><text x="256.4" y="1381" text-anchor="middle" font-size="64" textLength="105.1" lengthAdjust="spacingAndGlyphs">300</text><text x="526.1" y="1381" text-anchor="middle" font-size="64" textLength="105.1" lengthAdjust="spacingAndGlyphs">350</text><text x="795.8" y="1381" text-anchor="middle" font-size="64" textLength="105.1" lengthAdjust="spacingAndGlyphs">400</text><text x="1065.5" y="1381" text-anchor="middle" font-size="64" textLength="105.1" lengthAdjust="spacingAndGlyphs">450</text><text x="1335.2" y="1381" text-anchor="middle" font-size="64" textLength="105.1" lengthAdjust="spacingAndGlyphs">500</text><text x="1604.9" y="1381" text-anchor="middle" font-size="64" textLength="105.1" lengthAdjust="spacingAndGlyphs">550</text><text x="1874.6" y="1381" text-anchor="middle" font-size="64" textLength="105.1" lengthAdjust="spacingAndGlyphs">600</text><text x="2144.3" y="1381" text-anchor="middle" font-size="64" textLength="105.1" lengthAdjust="spacingAndGlyphs">650</text><text x="2414.0" y="1381" text-anchor="middle" font-size="64" textLength="105.1" lengthAdjust="spacingAndGlyphs">700</text></g>
<g font-family="Carlito, 'Liberation Sans', Arial, sans-serif" font-weight="bold" fill="#000" style="font-size-adjust:cap-height 0.6484">
<text x="1034.5" y="1526" font-size="74" textLength="545" lengthAdjust="spacingAndGlyphs">Wavelength / nm</text>
<text transform="translate(91.7,1017) rotate(-90)" font-size="74" textLength="703.2" lengthAdjust="spacingAndGlyphs">ε / dm<tspan font-weight="normal" font-size="50" stroke="#000" stroke-width="0.9" style="font-size-adjust:cap-height 0.6416" dy="-23">3</tspan><tspan dy="23"> mol</tspan><tspan font-weight="normal" font-size="50" stroke="#000" stroke-width="0.9" style="font-size-adjust:cap-height 0.6416" dy="-23">−1</tspan><tspan dy="23"> cm</tspan><tspan font-weight="normal" font-size="50" stroke="#000" stroke-width="0.9" style="font-size-adjust:cap-height 0.6416" dy="-23">−1</tspan><tspan dy="23"> 10</tspan><tspan font-weight="normal" font-size="50" stroke="#000" stroke-width="0.9" style="font-size-adjust:cap-height 0.6416" dy="-23">4</tspan></text>
<text x="511.3" y="252.7" font-size="63.5" textLength="247.5" lengthAdjust="spacingAndGlyphs">T<tspan font-weight="normal" font-size="42" stroke="#000" stroke-width="1.1" style="font-size-adjust:cap-height 0.6416" dy="13.4">2</tspan><tspan dy="-13.4"> = 75</tspan><tspan font-size="50" dy="-11">°</tspan><tspan dy="11">C</tspan></text>
<text x="1083" y="424.8" font-size="63.5" textLength="246.8" lengthAdjust="spacingAndGlyphs">T<tspan font-weight="normal" font-size="42" stroke="#000" stroke-width="1.1" style="font-size-adjust:cap-height 0.6416" dy="13.4">1</tspan><tspan dy="-13.4"> = 20</tspan><tspan font-size="50" dy="-11">°</tspan><tspan dy="11">C</tspan></text>
<text x="1768" y="231.3" font-size="64" textLength="453.4" lengthAdjust="spacingAndGlyphs">K' (20<tspan font-size="50" dy="-11">°</tspan><tspan dy="11">C) = 0.665</tspan></text>
<text x="1768" y="311.2" font-size="64" textLength="452.5" lengthAdjust="spacingAndGlyphs">K' (75<tspan font-size="50" dy="-11">°</tspan><tspan dy="11">C) = 0.049</tspan></text>
</g>
<g stroke="#000" fill="none" stroke-linecap="round">
<path d="M705.6,846 L732.3,324" stroke-width="6"/>
<path d="M714,350.2 L732.5,321 L748,352.2" stroke-width="5.6" stroke-linejoin="miter" stroke-miterlimit="10"/>
<path d="M1162.7,496 L1187.6,888" stroke-width="6"/>
<path d="M1168.8,863 L1187.8,892 L1202.8,860.4" stroke-width="5.6" stroke-linejoin="miter" stroke-miterlimit="10"/>
</g>
</svg>
</body></html>
